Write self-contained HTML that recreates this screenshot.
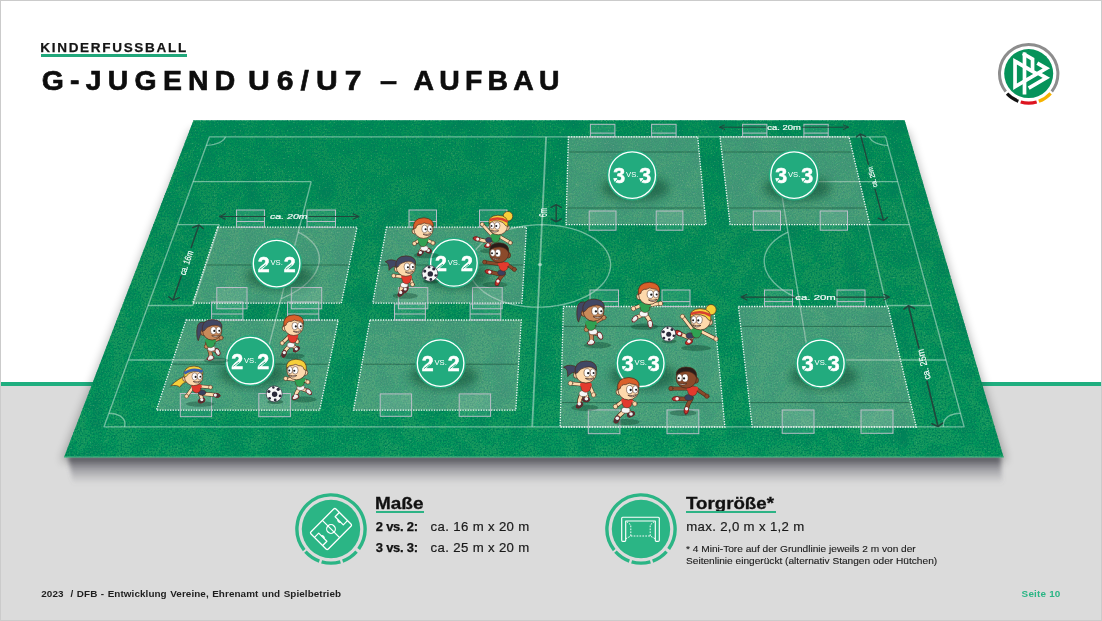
<!DOCTYPE html>
<html lang="de">
<head>
<meta charset="utf-8">
<title>Kinderfussball – G-Jugend U6/U7 – Aufbau</title>
<style>
html,body{margin:0;padding:0;}
body{width:1102px;height:621px;overflow:hidden;background:#fff;font-family:"Liberation Sans","DejaVu Sans",sans-serif;color:#111;}
#slide{position:relative;width:1102px;height:621px;overflow:hidden;background:#fff;}
#floor{position:absolute;left:0;top:385.3px;width:1102px;height:236px;background:#dbdbdb;}
#rule{position:absolute;left:0;top:382px;width:1102px;height:3.6px;background:#1fae7f;}
#frame{position:absolute;left:0;top:0;width:1100px;height:619px;border:1px solid #cbcbcb;pointer-events:none;}
#stage{position:absolute;left:0;top:0;}
.abs{position:absolute;white-space:nowrap;line-height:1;opacity:0.999;}
#stage text{opacity:0.999;}
#kicker{left:40.3px;top:41.2px;font-size:13.5px;font-weight:bold;letter-spacing:1.7px;color:#151515;-webkit-text-stroke:0.25px #151515;}
#kickline{position:absolute;left:41px;top:54px;width:146px;height:2.6px;background:#21a77b;}
#title{left:41px;top:65.7px;width:530px;height:30px;font-size:28.4px;font-weight:bold;color:#0d0d0d;-webkit-text-stroke:0.65px #0d0d0d;}
#title span{position:absolute;top:0;white-space:nowrap;transform-origin:0 0;}
.h{font-size:16.2px;font-weight:bold;color:#111;-webkit-text-stroke:0.3px #111;transform-origin:0 0;transform:scaleX(1.17);}
.hl{position:absolute;height:2px;background:#2db385;}
.b{font-size:13px;font-weight:bold;color:#111;letter-spacing:-0.25px;-webkit-text-stroke:0.25px #111;}
.r{font-size:13.2px;color:#1a1a1a;letter-spacing:0.35px;-webkit-text-stroke:0.2px #1a1a1a;}
.n{font-size:9.8px;color:#1a1a1a;transform-origin:0 0;transform:scaleX(1.034);-webkit-text-stroke:0.12px #1a1a1a;}
#foot{left:41.3px;top:588.6px;font-size:9.9px;font-weight:bold;color:#1e1e1e;letter-spacing:0.08px;word-spacing:0.65px;}
#page{left:1021.6px;top:588.6px;font-size:9.9px;font-weight:bold;color:#2bb585;letter-spacing:0.2px;}
</style>
</head>
<body>
<div id="slide">
<div id="floor"></div>
<div id="rule"></div>
<svg id="stage" width="1102" height="621" viewBox="0 0 1102 621">
<defs>
<filter id="grain" x="0" y="0" width="100%" height="100%">
<feTurbulence type="fractalNoise" baseFrequency="0.62" numOctaves="2" seed="7" result="n"/>
<feColorMatrix in="n" type="matrix" values="0 0 0 0 0  0 0 0 0 0.2  0 0 0 0 0.1  0 0 0 -3.4 1.86" result="dark"/>
<feComposite in="dark" in2="SourceAlpha" operator="in" result="d2"/>
<feColorMatrix in="n" type="matrix" values="0 0 0 0 0.25  0 0 0 0 0.74  0 0 0 0 0.5  0 0 0 0.7 -0.48" result="lite"/>
<feComposite in="lite" in2="SourceAlpha" operator="in" result="l2"/>
<feTurbulence type="fractalNoise" baseFrequency="0.045" numOctaves="3" seed="4" result="big"/>
<feColorMatrix in="big" type="matrix" values="0 0 0 0 0  0 0 0 0 0.18  0 0 0 0 0.1  0 0 0 -1.3 0.72" result="blot"/>
<feComposite in="blot" in2="SourceAlpha" operator="in" result="b2"/>
<feMerge><feMergeNode in="SourceGraphic"/><feMergeNode in="b2"/><feMergeNode in="d2"/><feMergeNode in="l2"/></feMerge>
</filter>
<filter id="grain2" x="0" y="0" width="100%" height="100%">
<feTurbulence type="fractalNoise" baseFrequency="0.9" numOctaves="1" seed="11" result="n"/>
<feColorMatrix in="n" type="matrix" values="0 0 0 0 1  0 0 0 0 1  0 0 0 0 1  0 0 0 1.5 -0.62" result="w"/>
<feComposite in="w" in2="SourceAlpha" operator="in"/>
</filter>
<filter id="blur6" x="-10%" y="-20%" width="120%" height="140%"><feGaussianBlur stdDeviation="5"/></filter>
<filter id="blur4" x="-20%" y="-20%" width="140%" height="140%"><feGaussianBlur stdDeviation="4"/></filter>
<filter id="blur2" x="-30%" y="-30%" width="160%" height="160%"><feGaussianBlur stdDeviation="2.2"/></filter>
<linearGradient id="shade" x1="0" y1="0" x2="0" y2="1">
<stop offset="0" stop-color="#45454f" stop-opacity="0.92"/>
<stop offset="0.35" stop-color="#55555f" stop-opacity="0.55"/>
<stop offset="1" stop-color="#70707a" stop-opacity="0"/>
</linearGradient>
<linearGradient id="turf" x1="0" y1="0" x2="0" y2="1">
<stop offset="0" stop-color="#118f56"/>
<stop offset="1" stop-color="#14995d"/>
</linearGradient>
<clipPath id="fieldclip"><polygon points="193.5,120.3 904.6,120.3 1003.6,457.2 64,457.2"/></clipPath>
</defs>
<polygon points="190.5,130.3 907.6,130.3 1006.6,461.2 61,461.2" fill="#000" opacity="0.28" filter="url(#blur6)"/>
<g filter="url(#blur2)"><polygon points="68,456 1000.6,456 1002.6,484 73,484" fill="url(#shade)"/></g>
<polygon points="193.5,120.3 904.6,120.3 1003.6,457.2 64,457.2" fill="url(#turf)" filter="url(#grain)"/>
<polyline points="64,457 1003.6,457" fill="none" stroke="#5fc596" stroke-width="1" opacity="0.8"/>
<g fill="none" stroke="#e2f3ea" stroke-opacity="0.47" stroke-width="1.35" stroke-linejoin="round">
<polygon points="209.4,136.9 885.6,136.9 964.1,426.8 104,426.8"/>
<line x1="546.1" y1="136.9" x2="532.2" y2="426.8" stroke-width="1.8"/>
<polyline points="193.1,181.6 311.2,181.6"/>
<polyline points="311.2,181.6 265.3,360"/>
<polyline points="265.3,360 128.3,360"/>
<polyline points="897.7,181.6 779.7,181.6"/>
<polyline points="779.7,181.6 809,360"/>
<polyline points="809,360 946,360"/>
<polyline points="177.5,224.6 219.3,224.6"/>
<polyline points="219.3,224.6 192.8,305.5"/>
<polyline points="192.8,305.5 148.1,305.5"/>
<polyline points="909.3,224.6 867.5,224.6"/>
<polyline points="867.5,224.6 886.5,305.5"/>
<polyline points="886.5,305.5 931.2,305.5"/>
<polyline points="610.6,264.5 610.3,261 609.5,257.4 608.1,254 606.3,250.6 603.9,247.4 601.1,244.3 597.8,241.4 594.2,238.6 590.1,236.1 585.7,233.8 581,231.7 575.9,229.9 570.7,228.4 565.2,227.1 559.5,226 553.7,225.3 547.8,224.9 541.9,224.7 535.9,224.9 530,225.3 524.1,226 518.4,227.1 512.8,228.4 507.4,229.9 502.2,231.7 497.2,233.8 492.6,236.1 488.3,238.6 484.4,241.4 480.8,244.3 477.7,247.4 475.1,250.6 472.9,254 471.2,257.4 470,261 469.4,264.5 469.2,268.1 469.7,271.7 470.6,275.3 472.1,278.8 474.2,282.2 476.8,285.5 479.8,288.6 483.4,291.6 487.4,294.4 491.8,296.9 496.6,299.2 501.8,301.3 507.3,303 513.1,304.5 519.1,305.7 525.3,306.5 531.6,307 538,307.2 544.3,307 550.7,306.5 556.9,305.7 563.1,304.5 569,303 574.6,301.3 580,299.2 585.1,296.9 589.8,294.4 594,291.6 597.9,288.6 601.2,285.5 604.1,282.2 606.5,278.8 608.3,275.3 609.6,271.7 610.4,268.1 610.6,264.5"/>
<polyline points="281.1,298.7 285.1,297 288.9,295.2 292.6,293.3 296,291.2 299.3,289.1 302.4,286.9 305.2,284.6 307.8,282.2 310.1,279.8 312.2,277.3 314.1,274.8 315.6,272.3 316.9,269.7 317.9,267.1 318.7,264.5 319.1,262 319.3,259.4 319.2,256.9 318.9,254.4 318.2,252 317.3,249.6 316.1,247.3 314.7,245.1 313,243 311.1,240.9 308.9,239 306.6,237.1 304,235.4 301.2,233.7 298.2,232.2"/>
<polyline points="788,232.2 784.9,233.7 781.9,235.4 779.1,237.1 776.6,239 774.2,240.9 772.1,243 770.3,245.1 768.6,247.3 767.2,249.6 766.1,252 765.2,254.4 764.6,256.9 764.3,259.4 764.2,262 764.5,264.5 765,267.1 765.7,269.7 766.8,272.3 768.1,274.8 769.7,277.3 771.6,279.8 773.7,282.2 776.1,284.6 778.7,286.9 781.5,289.1 784.6,291.2 787.9,293.3 791.4,295.2 795.1,297 798.9,298.7"/>
<polyline points="206.3,145.3 208.9,145.2 211.5,144.9 214,144.4 216.4,143.7 218.7,142.9 220.7,141.8 222.4,140.7 223.8,139.5 224.8,138.2 225.5,136.9"/>
<polyline points="869.5,136.9 870,138.2 871,139.5 872.2,140.7 873.9,141.8 875.8,142.9 877.9,143.7 880.3,144.4 882.8,144.9 885.3,145.2 887.9,145.3"/>
<polyline points="124.5,426.8 124.9,424.7 124.9,422.6 124.4,420.7 123.3,418.9 121.8,417.3 119.9,415.9 117.5,414.8 114.9,414 112,413.5 108.9,413.4"/>
<polyline points="960.5,413.4 957.3,413.5 954.4,414 951.6,414.8 949.2,415.9 947.1,417.3 945.5,418.9 944.3,420.7 943.6,422.6 943.3,424.7 943.6,426.8"/>
</g>
<ellipse cx="540" cy="264.5" rx="2.2" ry="1.6" fill="#d9efe2" opacity="0.6"/>
<polygon points="217.6,227.2 357.1,227.2 341.3,303.2 192.7,303.2" fill="#c2b8b6" fill-opacity="0.31"/>
<polygon points="217.6,227.2 357.1,227.2 341.3,303.2 192.7,303.2" fill="#fff" fill-opacity="0.13" filter="url(#grain2)"/>
<line x1="206.2" y1="265" x2="348.3" y2="265" stroke="#0a3a25" stroke-opacity="0.5" stroke-width="0.9"/>
<polygon points="217.6,227.2 357.1,227.2 341.3,303.2 192.7,303.2" fill="none" stroke="#fff" stroke-opacity="0.95" stroke-width="1.3" stroke-dasharray="1.3 1.3"/>
<polygon points="386.5,227.2 526.5,227.2 521.9,303.2 372.7,303.2" fill="#c2b8b6" fill-opacity="0.31"/>
<polygon points="386.5,227.2 526.5,227.2 521.9,303.2 372.7,303.2" fill="#fff" fill-opacity="0.13" filter="url(#grain2)"/>
<line x1="380.6" y1="265" x2="523.2" y2="265" stroke="#0a3a25" stroke-opacity="0.5" stroke-width="0.9"/>
<polygon points="386.5,227.2 526.5,227.2 521.9,303.2 372.7,303.2" fill="none" stroke="#fff" stroke-opacity="0.95" stroke-width="1.3" stroke-dasharray="1.3 1.3"/>
<polygon points="568.4,136.8 697.7,136.8 706,224.6 566,224.6" fill="#c2b8b6" fill-opacity="0.31"/>
<polygon points="568.4,136.8 697.7,136.8 706,224.6 566,224.6" fill="#fff" fill-opacity="0.13" filter="url(#grain2)"/>
<line x1="569" y1="152" x2="698.1" y2="152" stroke="#0a3a25" stroke-opacity="0.5" stroke-width="0.9"/>
<line x1="567.5" y1="208" x2="703.4" y2="208" stroke="#0a3a25" stroke-opacity="0.5" stroke-width="0.9"/>
<polygon points="568.4,136.8 697.7,136.8 706,224.6 566,224.6" fill="none" stroke="#fff" stroke-opacity="0.95" stroke-width="1.3" stroke-dasharray="1.3 1.3"/>
<polygon points="720,136.8 849,136.8 869.8,224.6 730.1,224.6" fill="#c2b8b6" fill-opacity="0.31"/>
<polygon points="720,136.8 849,136.8 869.8,224.6 730.1,224.6" fill="#fff" fill-opacity="0.13" filter="url(#grain2)"/>
<line x1="722.8" y1="152" x2="851.6" y2="152" stroke="#0a3a25" stroke-opacity="0.5" stroke-width="0.9"/>
<line x1="729.2" y1="208" x2="864.8" y2="208" stroke="#0a3a25" stroke-opacity="0.5" stroke-width="0.9"/>
<polygon points="720,136.8 849,136.8 869.8,224.6 730.1,224.6" fill="none" stroke="#fff" stroke-opacity="0.95" stroke-width="1.3" stroke-dasharray="1.3 1.3"/>
<polygon points="186.1,320 338.3,320 319.6,410.2 156.4,410.2" fill="#c2b8b6" fill-opacity="0.31"/>
<polygon points="186.1,320 338.3,320 319.6,410.2 156.4,410.2" fill="#fff" fill-opacity="0.13" filter="url(#grain2)"/>
<line x1="172.6" y1="364.2" x2="328.1" y2="364.2" stroke="#0a3a25" stroke-opacity="0.5" stroke-width="0.9"/>
<polygon points="186.1,320 338.3,320 319.6,410.2 156.4,410.2" fill="none" stroke="#fff" stroke-opacity="0.95" stroke-width="1.3" stroke-dasharray="1.3 1.3"/>
<polygon points="369.9,320 521.3,320 515.8,410.2 353.5,410.2" fill="#c2b8b6" fill-opacity="0.31"/>
<polygon points="369.9,320 521.3,320 515.8,410.2 353.5,410.2" fill="#fff" fill-opacity="0.13" filter="url(#grain2)"/>
<line x1="362.9" y1="364.2" x2="517.6" y2="364.2" stroke="#0a3a25" stroke-opacity="0.5" stroke-width="0.9"/>
<polygon points="369.9,320 521.3,320 515.8,410.2 353.5,410.2" fill="none" stroke="#fff" stroke-opacity="0.95" stroke-width="1.3" stroke-dasharray="1.3 1.3"/>
<polygon points="563.4,306.5 713.5,306.5 724.9,427 560.1,427" fill="#c2b8b6" fill-opacity="0.31"/>
<polygon points="563.4,306.5 713.5,306.5 724.9,427 560.1,427" fill="#fff" fill-opacity="0.13" filter="url(#grain2)"/>
<line x1="563.9" y1="326.4" x2="714.4" y2="326.4" stroke="#0a3a25" stroke-opacity="0.5" stroke-width="0.9"/>
<line x1="561.8" y1="402.6" x2="721.6" y2="402.6" stroke="#0a3a25" stroke-opacity="0.5" stroke-width="0.9"/>
<polygon points="563.4,306.5 713.5,306.5 724.9,427 560.1,427" fill="none" stroke="#fff" stroke-opacity="0.95" stroke-width="1.3" stroke-dasharray="1.3 1.3"/>
<polygon points="738.4,306.5 887.9,306.5 916.3,427 752.2,427" fill="#c2b8b6" fill-opacity="0.31"/>
<polygon points="738.4,306.5 887.9,306.5 916.3,427 752.2,427" fill="#fff" fill-opacity="0.13" filter="url(#grain2)"/>
<line x1="741.7" y1="326.4" x2="891.6" y2="326.4" stroke="#0a3a25" stroke-opacity="0.5" stroke-width="0.9"/>
<line x1="750.4" y1="402.6" x2="909.5" y2="402.6" stroke="#0a3a25" stroke-opacity="0.5" stroke-width="0.9"/>
<polygon points="738.4,306.5 887.9,306.5 916.3,427 752.2,427" fill="none" stroke="#fff" stroke-opacity="0.95" stroke-width="1.3" stroke-dasharray="1.3 1.3"/>
<g fill="#fff" fill-opacity="0.11" stroke="#c6c2d0" stroke-opacity="0.9" stroke-width="1">
<rect x="236.5" y="210" width="28" height="17.2"/>
<line x1="236.5" y1="221.5" x2="264.5" y2="221.5"/>
<rect x="307" y="210" width="28.5" height="17.2"/>
<line x1="307" y1="221.5" x2="335.5" y2="221.5"/>
<rect x="216.8" y="287.5" width="30.2" height="21.3"/>
<rect x="291.3" y="287.5" width="30.4" height="21.3"/>
<rect x="409" y="210" width="27.5" height="17.2"/>
<line x1="409" y1="221.5" x2="436.5" y2="221.5"/>
<rect x="479.5" y="210" width="27.5" height="17.2"/>
<line x1="479.5" y1="221.5" x2="507" y2="221.5"/>
<rect x="398.4" y="287.5" width="29.4" height="21.3"/>
<rect x="472.5" y="287.5" width="29.7" height="21.3"/>
<rect x="590.4" y="124.3" width="24.5" height="12.5"/>
<line x1="590.4" y1="133.1" x2="614.9" y2="133.1"/>
<rect x="651.6" y="124.3" width="24.5" height="12.5"/>
<line x1="651.6" y1="133.1" x2="676.1" y2="133.1"/>
<rect x="589.2" y="211" width="26.8" height="19.2"/>
<rect x="656.2" y="211" width="26.7" height="19.2"/>
<rect x="742.6" y="124.3" width="24.3" height="12.5"/>
<line x1="742.6" y1="133.1" x2="766.9" y2="133.1"/>
<rect x="803.9" y="124.3" width="24.3" height="12.5"/>
<line x1="803.9" y1="133.1" x2="828.2" y2="133.1"/>
<rect x="753.3" y="211" width="27.2" height="19.2"/>
<rect x="820.2" y="211" width="27.3" height="19.2"/>
<rect x="211.6" y="302" width="31.3" height="18"/>
<line x1="211.6" y1="314" x2="242.9" y2="314"/>
<rect x="287.5" y="302" width="31.3" height="18"/>
<line x1="287.5" y1="314" x2="318.8" y2="314"/>
<rect x="180.3" y="393.5" width="31.3" height="23.2"/>
<rect x="258.8" y="393.5" width="31.6" height="23.2"/>
<rect x="394.5" y="304" width="30.9" height="16"/>
<line x1="394.5" y1="314" x2="425.4" y2="314"/>
<rect x="470.1" y="304" width="30.7" height="16"/>
<line x1="470.1" y1="314" x2="500.8" y2="314"/>
<rect x="380.2" y="393.9" width="31.4" height="22.4"/>
<rect x="459.2" y="393.9" width="31.4" height="22.4"/>
<rect x="590" y="290" width="28.5" height="16.5"/>
<line x1="590" y1="301.6" x2="618.5" y2="301.6"/>
<rect x="662" y="290" width="28" height="16.5"/>
<line x1="662" y1="301.6" x2="690" y2="301.6"/>
<rect x="588.3" y="409.9" width="31.6" height="23.8"/>
<rect x="667" y="409.9" width="31.8" height="23.8"/>
<rect x="764.5" y="290" width="28" height="16.4"/>
<line x1="764.5" y1="301.6" x2="792.5" y2="301.6"/>
<rect x="837" y="290" width="28" height="16.4"/>
<line x1="837" y1="301.6" x2="865" y2="301.6"/>
<rect x="782.2" y="410" width="31.8" height="23.3"/>
<rect x="861" y="410" width="32" height="23.3"/>
</g>
<g font-family="'Liberation Sans', 'DejaVu Sans', sans-serif">
<path d="M219.5 216.5L265.5 216.5M308.8 216.5L359 216.5M225.4 219.3L219.5 216.5L225.4 213.7M353.1 213.7L359 216.5L353.1 219.3" fill="none" stroke="#24403a" stroke-width="1.05" stroke-linecap="round" stroke-linejoin="round" stroke-opacity="0.92"/>
<text x="288.8" y="219.2" transform="rotate(0 288.8 219.2)" font-size="7.6" text-anchor="middle" fill="#fff" fill-opacity="0.94" stroke="#fff" stroke-width="0.22" stroke-opacity="0.9" textLength="37.5" lengthAdjust="spacingAndGlyphs" font-style="italic">ca. 20m</text>
<path d="M199 225L191.2 247.6M181.3 276.1L173 300.2M192.7 227.6L199 225L203.2 228.5M179.3 297.6L173 300.2L168.8 296.7" fill="none" stroke="#24403a" stroke-width="1.45" stroke-linecap="round" stroke-linejoin="round" stroke-opacity="0.92"/>
<text x="189.3" y="263.8" transform="rotate(-71 189.3 263.8)" font-size="9.2" text-anchor="middle" fill="#fff" fill-opacity="0.94" stroke="#fff" stroke-width="0.22" stroke-opacity="0.9" textLength="25.5" lengthAdjust="spacingAndGlyphs">ca. 16m</text>
<path d="M719.5 127.2L765.9 127.2M802.1 127.2L848.5 127.2M724.7 129.6L719.5 127.2L724.7 124.8M843.3 124.8L848.5 127.2L843.3 129.6" fill="none" stroke="#24403a" stroke-width="0.95" stroke-linecap="round" stroke-linejoin="round" stroke-opacity="0.92"/>
<text x="784" y="129.9" transform="rotate(0 784 129.9)" font-size="7.4" text-anchor="middle" fill="#fff" fill-opacity="0.94" stroke="#fff" stroke-width="0.22" stroke-opacity="0.9" textLength="33.5" lengthAdjust="spacingAndGlyphs">ca. 20m</text>
<path d="M860.3 134L868.4 164.3M875.1 189.4L883.5 220.5M856.4 137L860.3 134L865.7 136.3M887.4 217.5L883.5 220.5L878.1 218.2" fill="none" stroke="#24403a" stroke-width="1.3" stroke-linecap="round" stroke-linejoin="round" stroke-opacity="0.92"/>
<text x="874.9" y="176.4" transform="rotate(-105 874.9 176.4)" font-size="7.2" text-anchor="middle" fill="#fff" fill-opacity="0.94" stroke="#fff" stroke-width="0.22" stroke-opacity="0.9" textLength="21" lengthAdjust="spacingAndGlyphs">ca. 25m</text>
<path d="M741 297.1L796 297.1M836.1 297.1L889.6 297.1M746.9 299.9L741 297.1L746.9 294.3M883.7 294.3L889.6 297.1L883.7 299.9" fill="none" stroke="#24403a" stroke-width="1.1" stroke-linecap="round" stroke-linejoin="round" stroke-opacity="0.92"/>
<text x="815.6" y="299.8" transform="rotate(0 815.6 299.8)" font-size="8.1" text-anchor="middle" fill="#fff" fill-opacity="0.94" stroke="#fff" stroke-width="0.22" stroke-opacity="0.9" textLength="40.5" lengthAdjust="spacingAndGlyphs">ca. 20m</text>
<path d="M908.5 305.7L918.8 348M927 381.3L938 426.5M903.9 309.1L908.5 305.7L914.6 308.4M942.6 423.1L938 426.5L931.9 423.8" fill="none" stroke="#24403a" stroke-width="1.6" stroke-linecap="round" stroke-linejoin="round" stroke-opacity="0.92"/>
<text x="927" y="363.8" transform="rotate(-103.7 927 363.8)" font-size="9.6" text-anchor="middle" fill="#fff" fill-opacity="0.94" stroke="#fff" stroke-width="0.22" stroke-opacity="0.9" textLength="31" lengthAdjust="spacingAndGlyphs">ca. 25m</text>
<path d="M556.2 204.5L556.2 221.8M551.1 207.4L556.2 204.5L561.3 207.4M561.3 218.9L556.2 221.8L551.1 218.9" fill="none" stroke="#24403a" stroke-width="1.4" stroke-linecap="round" stroke-linejoin="round" stroke-opacity="0.92"/>
<text x="546.9" y="212.5" transform="rotate(-90 546.9 212.5)" font-size="10.4" text-anchor="middle" fill="#fff" fill-opacity="0.94" stroke="#fff" stroke-width="0.22" stroke-opacity="0.9" textLength="9" lengthAdjust="spacingAndGlyphs">6m</text>
</g>
<ellipse cx="279.6" cy="276.6" rx="34" ry="13" fill="#04351f" opacity="0.42" filter="url(#blur4)"/>
<ellipse cx="456.9" cy="275.9" rx="34" ry="13" fill="#04351f" opacity="0.42" filter="url(#blur4)"/>
<ellipse cx="635.2" cy="188.1" rx="34" ry="13" fill="#04351f" opacity="0.42" filter="url(#blur4)"/>
<ellipse cx="797.1" cy="188.1" rx="34" ry="13" fill="#04351f" opacity="0.42" filter="url(#blur4)"/>
<ellipse cx="253.1" cy="373.7" rx="34" ry="13" fill="#04351f" opacity="0.42" filter="url(#blur4)"/>
<ellipse cx="443.6" cy="376.1" rx="34" ry="13" fill="#04351f" opacity="0.42" filter="url(#blur4)"/>
<ellipse cx="643.7" cy="376.2" rx="34" ry="13" fill="#04351f" opacity="0.42" filter="url(#blur4)"/>
<ellipse cx="823.8" cy="376.4" rx="34" ry="13" fill="#04351f" opacity="0.42" filter="url(#blur4)"/>
<g transform="translate(276.6 263.6)">
<circle r="25.4" fill="#22ab7e"/><circle r="23.3" fill="none" stroke="#fff" stroke-width="1.35"/>
<g font-family="'Liberation Sans', 'DejaVu Sans', sans-serif" fill="#fff" text-anchor="middle">
<text x="-13.0" y="8" font-size="22.3" font-weight="bold" textLength="11.9" lengthAdjust="spacingAndGlyphs" stroke="#fff" stroke-width="0.55">2</text>
<text x="0" y="1.8" font-size="6.4" textLength="12.4" lengthAdjust="spacingAndGlyphs">VS.</text>
<text x="13.0" y="8" font-size="22.3" font-weight="bold" textLength="11.9" lengthAdjust="spacingAndGlyphs" stroke="#fff" stroke-width="0.55">2</text>
</g>
<path d="M-16.7 5.6 L-10.9 1.2" stroke="#22ab7e" stroke-width="0.9" fill="none"/>
<path d="M9.3 5.6 L15.1 1.2" stroke="#22ab7e" stroke-width="0.9" fill="none"/>
</g>
<g transform="translate(453.9 262.9)">
<circle r="25.4" fill="#22ab7e"/><circle r="23.3" fill="none" stroke="#fff" stroke-width="1.35"/>
<g font-family="'Liberation Sans', 'DejaVu Sans', sans-serif" fill="#fff" text-anchor="middle">
<text x="-13.0" y="8" font-size="22.3" font-weight="bold" textLength="11.9" lengthAdjust="spacingAndGlyphs" stroke="#fff" stroke-width="0.55">2</text>
<text x="0" y="1.8" font-size="6.4" textLength="12.4" lengthAdjust="spacingAndGlyphs">VS.</text>
<text x="13.0" y="8" font-size="22.3" font-weight="bold" textLength="11.9" lengthAdjust="spacingAndGlyphs" stroke="#fff" stroke-width="0.55">2</text>
</g>
<path d="M-16.7 5.6 L-10.9 1.2" stroke="#22ab7e" stroke-width="0.9" fill="none"/>
<path d="M9.3 5.6 L15.1 1.2" stroke="#22ab7e" stroke-width="0.9" fill="none"/>
</g>
<g transform="translate(632.2 175.1)">
<circle r="25.4" fill="#22ab7e"/><circle r="23.3" fill="none" stroke="#fff" stroke-width="1.35"/>
<g font-family="'Liberation Sans', 'DejaVu Sans', sans-serif" fill="#fff" text-anchor="middle">
<text x="-13.0" y="8" font-size="22.3" font-weight="bold" textLength="11.9" lengthAdjust="spacingAndGlyphs" stroke="#fff" stroke-width="0.55">3</text>
<text x="0" y="1.8" font-size="6.4" textLength="12.4" lengthAdjust="spacingAndGlyphs">VS.</text>
<text x="13.0" y="8" font-size="22.3" font-weight="bold" textLength="11.9" lengthAdjust="spacingAndGlyphs" stroke="#fff" stroke-width="0.55">3</text>
</g>
<path d="M-17.1 6.8 L-13.7 3.0 M-15.7 -1.2 L-12.9 -3.4" stroke="#22ab7e" stroke-width="0.9" fill="none"/>
<path d="M8.9 6.8 L12.3 3.0 M10.3 -1.2 L13.1 -3.4" stroke="#22ab7e" stroke-width="0.9" fill="none"/>
</g>
<g transform="translate(794.1 175.1)">
<circle r="25.4" fill="#22ab7e"/><circle r="23.3" fill="none" stroke="#fff" stroke-width="1.35"/>
<g font-family="'Liberation Sans', 'DejaVu Sans', sans-serif" fill="#fff" text-anchor="middle">
<text x="-13.0" y="8" font-size="22.3" font-weight="bold" textLength="11.9" lengthAdjust="spacingAndGlyphs" stroke="#fff" stroke-width="0.55">3</text>
<text x="0" y="1.8" font-size="6.4" textLength="12.4" lengthAdjust="spacingAndGlyphs">VS.</text>
<text x="13.0" y="8" font-size="22.3" font-weight="bold" textLength="11.9" lengthAdjust="spacingAndGlyphs" stroke="#fff" stroke-width="0.55">3</text>
</g>
<path d="M-17.1 6.8 L-13.7 3.0 M-15.7 -1.2 L-12.9 -3.4" stroke="#22ab7e" stroke-width="0.9" fill="none"/>
<path d="M8.9 6.8 L12.3 3.0 M10.3 -1.2 L13.1 -3.4" stroke="#22ab7e" stroke-width="0.9" fill="none"/>
</g>
<g transform="translate(250.1 360.7)">
<circle r="25.4" fill="#22ab7e"/><circle r="23.3" fill="none" stroke="#fff" stroke-width="1.35"/>
<g font-family="'Liberation Sans', 'DejaVu Sans', sans-serif" fill="#fff" text-anchor="middle">
<text x="-13.0" y="8" font-size="22.3" font-weight="bold" textLength="11.9" lengthAdjust="spacingAndGlyphs" stroke="#fff" stroke-width="0.55">2</text>
<text x="0" y="1.8" font-size="6.4" textLength="12.4" lengthAdjust="spacingAndGlyphs">VS.</text>
<text x="13.0" y="8" font-size="22.3" font-weight="bold" textLength="11.9" lengthAdjust="spacingAndGlyphs" stroke="#fff" stroke-width="0.55">2</text>
</g>
<path d="M-16.7 5.6 L-10.9 1.2" stroke="#22ab7e" stroke-width="0.9" fill="none"/>
<path d="M9.3 5.6 L15.1 1.2" stroke="#22ab7e" stroke-width="0.9" fill="none"/>
</g>
<g transform="translate(440.6 363.1)">
<circle r="25.4" fill="#22ab7e"/><circle r="23.3" fill="none" stroke="#fff" stroke-width="1.35"/>
<g font-family="'Liberation Sans', 'DejaVu Sans', sans-serif" fill="#fff" text-anchor="middle">
<text x="-13.0" y="8" font-size="22.3" font-weight="bold" textLength="11.9" lengthAdjust="spacingAndGlyphs" stroke="#fff" stroke-width="0.55">2</text>
<text x="0" y="1.8" font-size="6.4" textLength="12.4" lengthAdjust="spacingAndGlyphs">VS.</text>
<text x="13.0" y="8" font-size="22.3" font-weight="bold" textLength="11.9" lengthAdjust="spacingAndGlyphs" stroke="#fff" stroke-width="0.55">2</text>
</g>
<path d="M-16.7 5.6 L-10.9 1.2" stroke="#22ab7e" stroke-width="0.9" fill="none"/>
<path d="M9.3 5.6 L15.1 1.2" stroke="#22ab7e" stroke-width="0.9" fill="none"/>
</g>
<g transform="translate(640.7 363.2)">
<circle r="25.4" fill="#22ab7e"/><circle r="23.3" fill="none" stroke="#fff" stroke-width="1.35"/>
<g font-family="'Liberation Sans', 'DejaVu Sans', sans-serif" fill="#fff" text-anchor="middle">
<text x="-13.0" y="8" font-size="22.3" font-weight="bold" textLength="11.9" lengthAdjust="spacingAndGlyphs" stroke="#fff" stroke-width="0.55">3</text>
<text x="0" y="1.8" font-size="6.4" textLength="12.4" lengthAdjust="spacingAndGlyphs">VS.</text>
<text x="13.0" y="8" font-size="22.3" font-weight="bold" textLength="11.9" lengthAdjust="spacingAndGlyphs" stroke="#fff" stroke-width="0.55">3</text>
</g>
<path d="M-17.1 6.8 L-13.7 3.0 M-15.7 -1.2 L-12.9 -3.4" stroke="#22ab7e" stroke-width="0.9" fill="none"/>
<path d="M8.9 6.8 L12.3 3.0 M10.3 -1.2 L13.1 -3.4" stroke="#22ab7e" stroke-width="0.9" fill="none"/>
</g>
<g transform="translate(820.8 363.4)">
<circle r="25.4" fill="#22ab7e"/><circle r="23.3" fill="none" stroke="#fff" stroke-width="1.35"/>
<g font-family="'Liberation Sans', 'DejaVu Sans', sans-serif" fill="#fff" text-anchor="middle">
<text x="-13.0" y="8" font-size="22.3" font-weight="bold" textLength="11.9" lengthAdjust="spacingAndGlyphs" stroke="#fff" stroke-width="0.55">3</text>
<text x="0" y="1.8" font-size="6.4" textLength="12.4" lengthAdjust="spacingAndGlyphs">VS.</text>
<text x="13.0" y="8" font-size="22.3" font-weight="bold" textLength="11.9" lengthAdjust="spacingAndGlyphs" stroke="#fff" stroke-width="0.55">3</text>
</g>
<path d="M-17.1 6.8 L-13.7 3.0 M-15.7 -1.2 L-12.9 -3.4" stroke="#22ab7e" stroke-width="0.9" fill="none"/>
<path d="M8.9 6.8 L12.3 3.0 M10.3 -1.2 L13.1 -3.4" stroke="#22ab7e" stroke-width="0.9" fill="none"/>
</g>
<ellipse cx="426.2" cy="255.4" rx="12.5" ry="2.9" fill="#04351f" opacity="0.33"/>
<g stroke-linecap="round" stroke-linejoin="round">
<path d="M422.4 249.7 Q420 251.1 420.5 253" fill="none" stroke="#4a2a1a" stroke-width="4.1"/>
<path d="M422.4 249.7 Q420 251.1 420.5 253" fill="none" stroke="#fdd9ac" stroke-width="3.1"/>
<ellipse cx="420.5" cy="253" rx="3.6" ry="2.1" transform="rotate(135.1 420.5 253)" fill="#4a3236" stroke="#6a2326" stroke-width="0.9"/>
<circle cx="420.4" cy="252.5" r="1.6" fill="#f2f2f2"/>
<path d="M426.6 249.7 Q428.7 249.9 428 250.5" fill="none" stroke="#4a2a1a" stroke-width="4.1"/>
<path d="M426.6 249.7 Q428.7 249.9 428 250.5" fill="none" stroke="#fdd9ac" stroke-width="3.1"/>
<ellipse cx="428" cy="250.5" rx="3.6" ry="2.1" transform="rotate(200.3 428 250.5)" fill="#4a3236" stroke="#6a2326" stroke-width="0.9"/>
<circle cx="428.2" cy="250.3" r="1.6" fill="#f2f2f2"/>
<ellipse cx="424.5" cy="248.3" rx="4" ry="2.8" fill="#f6f6f6" stroke="#4a2a1a" stroke-width="0.5"/>
<path d="M419.9 239.7 L414.5 243.5" fill="none" stroke="#4a2a1a" stroke-width="3.6"/>
<path d="M419.9 239.7 L414.5 243.5" fill="none" stroke="#fdd9ac" stroke-width="2.6"/>
<circle cx="414.5" cy="243.5" r="2.1" fill="#fdd9ac" stroke="#4a2a1a" stroke-width="0.5"/>
<path d="M426.1 239.7 L433 243" fill="none" stroke="#4a2a1a" stroke-width="3.6"/>
<path d="M426.1 239.7 L433 243" fill="none" stroke="#fdd9ac" stroke-width="2.6"/>
<circle cx="433" cy="243" r="2.1" fill="#fdd9ac" stroke="#4a2a1a" stroke-width="0.5"/>
<ellipse cx="423" cy="242" rx="4.5" ry="4.7" fill="#2fa152" stroke="#4a2a1a" stroke-width="0.5"/>
<circle cx="419.6" cy="239.8" r="2.1" fill="#2fa152"/>
<circle cx="426.4" cy="239.8" r="2.1" fill="#2fa152"/>
</g>
<g transform="translate(423.5 229.1) scale(9.6 9.6)">
<ellipse cx="-0.95" cy="0.2" rx="0.24" ry="0.3" fill="#fdd9ac" stroke="#4a2a1a" stroke-width="0.07"/>
<ellipse cx="0" cy="0" rx="1" ry="0.97" fill="#fdd9ac" stroke="#4a2a1a" stroke-width="0.07"/>
<path d="M-1.03 0.05 Q-1.2 -1.15 0.05 -1.18 Q1.15 -1.1 1.02 -0.2 Q0.75 -0.62 0.35 -0.55 Q0.1 -0.75 -0.25 -0.5 Q-0.7 -0.55 -0.8 -0.1 Q-0.95 -0.1 -1.03 0.05Z" fill="#d9602a" stroke="#4a2a1a" stroke-width="0.07"/>
<ellipse cx="0.12" cy="-0.02" rx="0.3" ry="0.4" fill="#fff" stroke="#4a2a1a" stroke-width="0.05"/>
<ellipse cx="0.66" cy="-0.04" rx="0.26" ry="0.37" fill="#fff" stroke="#4a2a1a" stroke-width="0.05"/>
<circle cx="0.22" cy="0.02" r="0.11" fill="#1a1a1a"/><circle cx="0.74" cy="0.0" r="0.1" fill="#1a1a1a"/>
<path d="M-0.05 0.52 Q0.42 0.86 0.78 0.46 Q0.4 0.62 -0.05 0.52Z" fill="#fff" stroke="#4a2a1a" stroke-width="0.07"/>
</g>
<ellipse cx="494" cy="251" rx="14" ry="2.8" fill="#04351f" opacity="0.33"/>
<g stroke-linecap="round" stroke-linejoin="round">
<path d="M487.4 241.4 Q480.6 239.9 476.6 238.8" fill="none" stroke="#4a2a1a" stroke-width="4"/>
<path d="M487.4 241.4 Q480.6 239.9 476.6 238.8" fill="none" stroke="#fdd9ac" stroke-width="2.9"/>
<ellipse cx="476.6" cy="238.8" rx="3.4" ry="2" transform="rotate(-165.2 476.6 238.8)" fill="#c9342c" stroke="#6a2326" stroke-width="0.9"/>
<circle cx="477.7" cy="239.1" r="1.6" fill="#f2f2f2"/>
<path d="M491.4 241.4 Q488.2 243.2 487.8 245.5" fill="none" stroke="#4a2a1a" stroke-width="4"/>
<path d="M491.4 241.4 Q488.2 243.2 487.8 245.5" fill="none" stroke="#fdd9ac" stroke-width="2.9"/>
<ellipse cx="487.8" cy="245.5" rx="3.4" ry="2" transform="rotate(160.7 487.8 245.5)" fill="#c9342c" stroke="#6a2326" stroke-width="0.9"/>
<circle cx="487.9" cy="244.9" r="1.6" fill="#f2f2f2"/>
<ellipse cx="489.4" cy="240" rx="3.9" ry="2.7" fill="#39415f" stroke="#4a2a1a" stroke-width="0.5"/>
<path d="M492.6 235.8 L482.2 224.3" fill="none" stroke="#4a2a1a" stroke-width="3.4"/>
<path d="M492.6 235.8 L482.2 224.3" fill="none" stroke="#fdd9ac" stroke-width="2.5"/>
<circle cx="482.2" cy="224.3" r="2" fill="#fdd9ac" stroke="#4a2a1a" stroke-width="0.5"/>
<path d="M498.4 235.8 L510.4 242.8" fill="none" stroke="#4a2a1a" stroke-width="3.4"/>
<path d="M498.4 235.8 L510.4 242.8" fill="none" stroke="#fdd9ac" stroke-width="2.5"/>
<circle cx="510.4" cy="242.8" r="2" fill="#fdd9ac" stroke="#4a2a1a" stroke-width="0.5"/>
<ellipse cx="495.5" cy="238" rx="4.3" ry="4.5" fill="#2fa152" stroke="#4a2a1a" stroke-width="0.5"/>
<circle cx="492.3" cy="235.9" r="2" fill="#2fa152"/>
<circle cx="498.7" cy="235.9" r="2" fill="#2fa152"/>
</g>
<g transform="translate(498.3 225.9) scale(-9.2 9.2)">
<circle cx="-1.05" cy="-1.05" r="0.52" fill="#f6cf3a" stroke="#4a2a1a" stroke-width="0.07"/>
<ellipse cx="-0.95" cy="0.2" rx="0.24" ry="0.3" fill="#fdd9ac" stroke="#4a2a1a" stroke-width="0.07"/>
<ellipse cx="0" cy="0" rx="1" ry="0.97" fill="#fdd9ac" stroke="#4a2a1a" stroke-width="0.07"/>
<path d="M-1.03 0.1 Q-1.2 -1.15 0.05 -1.16 Q1.12 -1.1 1.02 -0.25 Q0.6 -0.7 0.0 -0.55 Q-0.6 -0.45 -0.82 0.0 Q-0.95 0.0 -1.03 0.1Z" fill="#f6cf3a" stroke="#4a2a1a" stroke-width="0.07"/>
<path d="M-1.0 -0.45 Q-0.1 -1.05 0.95 -0.62" fill="none" stroke="#d8402e" stroke-width="0.26"/>
<ellipse cx="0.12" cy="-0.02" rx="0.3" ry="0.4" fill="#fff" stroke="#4a2a1a" stroke-width="0.05"/>
<ellipse cx="0.66" cy="-0.04" rx="0.26" ry="0.37" fill="#fff" stroke="#4a2a1a" stroke-width="0.05"/>
<circle cx="0.22" cy="0.02" r="0.11" fill="#1a1a1a"/><circle cx="0.74" cy="0.0" r="0.1" fill="#1a1a1a"/>
<path d="M-0.05 0.52 Q0.42 0.86 0.78 0.46 Q0.4 0.62 -0.05 0.52Z" fill="#fff" stroke="#4a2a1a" stroke-width="0.07"/>
</g>
<ellipse cx="405.2" cy="295.9" rx="12.5" ry="2.9" fill="#04351f" opacity="0.33"/>
<g stroke-linecap="round" stroke-linejoin="round">
<path d="M402.2 286.4 Q400.1 289.7 400.9 293.5" fill="none" stroke="#4a2a1a" stroke-width="4.1"/>
<path d="M402.2 286.4 Q400.1 289.7 400.9 293.5" fill="none" stroke="#fdd9ac" stroke-width="3.1"/>
<ellipse cx="400.9" cy="293.5" rx="3.6" ry="2.1" transform="rotate(138.1 400.9 293.5)" fill="#4a3236" stroke="#6a2326" stroke-width="0.9"/>
<circle cx="400.7" cy="292.4" r="1.6" fill="#f2f2f2"/>
<path d="M406.4 286.4 Q404.5 287.7 405.5 289.5" fill="none" stroke="#4a2a1a" stroke-width="4.1"/>
<path d="M406.4 286.4 Q404.5 287.7 405.5 289.5" fill="none" stroke="#fdd9ac" stroke-width="3.1"/>
<ellipse cx="405.5" cy="289.5" rx="3.6" ry="2.1" transform="rotate(120.9 405.5 289.5)" fill="#4a3236" stroke="#6a2326" stroke-width="0.9"/>
<circle cx="405.2" cy="289" r="1.6" fill="#f2f2f2"/>
<ellipse cx="404.3" cy="285" rx="4" ry="2.8" fill="#f6f6f6" stroke="#4a2a1a" stroke-width="0.5"/>
<path d="M403.5 276.9 L393.7 275.8" fill="none" stroke="#4a2a1a" stroke-width="3.6"/>
<path d="M403.5 276.9 L393.7 275.8" fill="none" stroke="#fdd9ac" stroke-width="2.6"/>
<circle cx="393.7" cy="275.8" r="2.1" fill="#fdd9ac" stroke="#4a2a1a" stroke-width="0.5"/>
<path d="M409.7 276.9 L412.5 284.5" fill="none" stroke="#4a2a1a" stroke-width="3.6"/>
<path d="M409.7 276.9 L412.5 284.5" fill="none" stroke="#fdd9ac" stroke-width="2.6"/>
<circle cx="412.5" cy="284.5" r="2.1" fill="#fdd9ac" stroke="#4a2a1a" stroke-width="0.5"/>
<ellipse cx="406.6" cy="279.2" rx="4.5" ry="4.7" fill="#e23a2e" stroke="#4a2a1a" stroke-width="0.5"/>
<circle cx="403.2" cy="277" r="2.1" fill="#e23a2e"/>
<circle cx="410" cy="277" r="2.1" fill="#e23a2e"/>
</g>
<g transform="translate(405.8 267) scale(9.6 9.6)">
<path d="M-0.7 -0.45 Q-1.5 -1.0 -2.15 -0.55 Q-1.7 -0.45 -1.75 0.35 Q-1.3 -0.25 -0.8 0.0Z" fill="#414764" stroke="#4a2a1a" stroke-width="0.07"/>
<ellipse cx="-0.95" cy="0.2" rx="0.24" ry="0.3" fill="#fdd9ac" stroke="#4a2a1a" stroke-width="0.07"/>
<ellipse cx="0" cy="0" rx="1" ry="0.97" fill="#fdd9ac" stroke="#4a2a1a" stroke-width="0.07"/>
<path d="M-1.03 0.1 Q-1.2 -1.15 0.05 -1.16 Q1.12 -1.1 1.02 -0.25 Q0.6 -0.7 0.0 -0.55 Q-0.6 -0.45 -0.82 0.0 Q-0.95 0.0 -1.03 0.1Z" fill="#414764" stroke="#4a2a1a" stroke-width="0.07"/>
<ellipse cx="0.12" cy="-0.02" rx="0.3" ry="0.4" fill="#fff" stroke="#4a2a1a" stroke-width="0.05"/>
<ellipse cx="0.66" cy="-0.04" rx="0.26" ry="0.37" fill="#fff" stroke="#4a2a1a" stroke-width="0.05"/>
<circle cx="0.22" cy="0.02" r="0.11" fill="#1a1a1a"/><circle cx="0.74" cy="0.0" r="0.1" fill="#1a1a1a"/>
<path d="M-0.05 0.52 Q0.42 0.86 0.78 0.46 Q0.4 0.62 -0.05 0.52Z" fill="#fff" stroke="#4a2a1a" stroke-width="0.07"/>
</g>
<ellipse cx="495.1" cy="284.7" rx="12.5" ry="2.9" fill="#04351f" opacity="0.33"/>
<g stroke-linecap="round" stroke-linejoin="round">
<path d="M499.4 274.2 Q492.6 272.8 488.6 271.8" fill="none" stroke="#4a2a1a" stroke-width="4.1"/>
<path d="M499.4 274.2 Q492.6 272.8 488.6 271.8" fill="none" stroke="#8b4a2b" stroke-width="3.1"/>
<ellipse cx="488.6" cy="271.8" rx="3.6" ry="2.1" transform="rotate(-166.1 488.6 271.8)" fill="#c9342c" stroke="#6a2326" stroke-width="0.9"/>
<circle cx="489.7" cy="272.1" r="1.6" fill="#f2f2f2"/>
<path d="M503.6 274.2 Q499.1 278 497.5 282.3" fill="none" stroke="#4a2a1a" stroke-width="4.1"/>
<path d="M503.6 274.2 Q499.1 278 497.5 282.3" fill="none" stroke="#8b4a2b" stroke-width="3.1"/>
<ellipse cx="497.5" cy="282.3" rx="3.6" ry="2.1" transform="rotate(110.7 497.5 282.3)" fill="#c9342c" stroke="#6a2326" stroke-width="0.9"/>
<circle cx="498" cy="281.1" r="1.6" fill="#f2f2f2"/>
<ellipse cx="501.5" cy="272.8" rx="4" ry="2.8" fill="#39415f" stroke="#4a2a1a" stroke-width="0.5"/>
<path d="M500.4 264.2 L484.6 262.1" fill="none" stroke="#4a2a1a" stroke-width="3.6"/>
<path d="M500.4 264.2 L484.6 262.1" fill="none" stroke="#8b4a2b" stroke-width="2.6"/>
<circle cx="484.6" cy="262.1" r="2.1" fill="#8b4a2b" stroke="#4a2a1a" stroke-width="0.5"/>
<path d="M506.6 264.2 L514.4 269.4" fill="none" stroke="#4a2a1a" stroke-width="3.6"/>
<path d="M506.6 264.2 L514.4 269.4" fill="none" stroke="#8b4a2b" stroke-width="2.6"/>
<circle cx="514.4" cy="269.4" r="2.1" fill="#8b4a2b" stroke="#4a2a1a" stroke-width="0.5"/>
<ellipse cx="503.5" cy="266.5" rx="4.5" ry="4.7" fill="#e23a2e" stroke="#4a2a1a" stroke-width="0.5"/>
<circle cx="500.1" cy="264.3" r="2.1" fill="#e23a2e"/>
<circle cx="506.9" cy="264.3" r="2.1" fill="#e23a2e"/>
</g>
<g transform="translate(499.1 253.3) scale(-9.6 9.6)">
<ellipse cx="-0.95" cy="0.2" rx="0.24" ry="0.3" fill="#8b4a2b" stroke="#4a2a1a" stroke-width="0.07"/>
<ellipse cx="0" cy="0" rx="1" ry="0.97" fill="#8b4a2b" stroke="#4a2a1a" stroke-width="0.07"/>
<path d="M-1.0 -0.1 Q-1.1 -1.08 0.05 -1.1 Q1.05 -1.02 0.98 -0.3 Q0.5 -0.72 -0.1 -0.66 Q-0.7 -0.62 -1.0 -0.1Z" fill="#2a1d1a" stroke="#4a2a1a" stroke-width="0.07"/>
<ellipse cx="0.12" cy="-0.02" rx="0.3" ry="0.4" fill="#fff" stroke="#4a2a1a" stroke-width="0.05"/>
<ellipse cx="0.66" cy="-0.04" rx="0.26" ry="0.37" fill="#fff" stroke="#4a2a1a" stroke-width="0.05"/>
<circle cx="0.22" cy="0.02" r="0.11" fill="#1a1a1a"/><circle cx="0.74" cy="0.0" r="0.1" fill="#1a1a1a"/>
<path d="M-0.05 0.52 Q0.42 0.86 0.78 0.46 Q0.4 0.62 -0.05 0.52Z" fill="#fff" stroke="#4a2a1a" stroke-width="0.07"/>
</g>
<ellipse cx="430.9" cy="281.4" rx="7.9" ry="2.2" fill="#04351f" opacity="0.4"/>
<circle cx="429.9" cy="273.5" r="7.9" fill="#f7f7f7" stroke="#2a2a3a" stroke-width="0.7"/>
<circle cx="430.3" cy="273.9" r="2.7" fill="#2a2a3a"/>
<circle cx="424.7" cy="271.1" r="1.6" fill="#2a2a3a"/>
<circle cx="433.8" cy="268.9" r="1.6" fill="#2a2a3a"/>
<circle cx="430.8" cy="279.5" r="1.4" fill="#2a2a3a"/>
<circle cx="425.3" cy="277.8" r="1.3" fill="#2a2a3a"/>
<circle cx="435.7" cy="275.5" r="1.3" fill="#2a2a3a"/>
<circle cx="429.1" cy="267.2" r="1.2" fill="#2a2a3a"/>
<ellipse cx="216.1" cy="360.5" rx="12.5" ry="2.9" fill="#04351f" opacity="0.33"/>
<g stroke-linecap="round" stroke-linejoin="round">
<path d="M209.3 350 Q211.3 353.8 210.5 358.1" fill="none" stroke="#4a2a1a" stroke-width="4.1"/>
<path d="M209.3 350 Q211.3 353.8 210.5 358.1" fill="none" stroke="#c98a5a" stroke-width="3.1"/>
<ellipse cx="210.5" cy="358.1" rx="3.6" ry="2.1" transform="rotate(161.1 210.5 358.1)" fill="#e9e4e0" stroke="#6a2326" stroke-width="0.9"/>
<circle cx="210.7" cy="356.9" r="1.6" fill="#f2f2f2"/>
<path d="M213.5 350 Q217 350.8 217.6 352" fill="none" stroke="#4a2a1a" stroke-width="4.1"/>
<path d="M213.5 350 Q217 350.8 217.6 352" fill="none" stroke="#c98a5a" stroke-width="3.1"/>
<ellipse cx="217.6" cy="352" rx="3.6" ry="2.1" transform="rotate(63.7 217.6 352)" fill="#e9e4e0" stroke="#6a2326" stroke-width="0.9"/>
<circle cx="217.4" cy="351.7" r="1.6" fill="#f2f2f2"/>
<ellipse cx="211.4" cy="348.6" rx="4" ry="2.8" fill="#f6f6f6" stroke="#4a2a1a" stroke-width="0.5"/>
<path d="M207.4 340.7 L206.4 346.6" fill="none" stroke="#4a2a1a" stroke-width="3.6"/>
<path d="M207.4 340.7 L206.4 346.6" fill="none" stroke="#c98a5a" stroke-width="2.6"/>
<circle cx="206.4" cy="346.6" r="2.1" fill="#c98a5a" stroke="#4a2a1a" stroke-width="0.5"/>
<path d="M213.6 340.7 L221.1 337.8" fill="none" stroke="#4a2a1a" stroke-width="3.6"/>
<path d="M213.6 340.7 L221.1 337.8" fill="none" stroke="#c98a5a" stroke-width="2.6"/>
<circle cx="221.1" cy="337.8" r="2.1" fill="#c98a5a" stroke="#4a2a1a" stroke-width="0.5"/>
<ellipse cx="210.5" cy="343" rx="4.5" ry="4.7" fill="#2fa152" stroke="#4a2a1a" stroke-width="0.5"/>
<circle cx="207.1" cy="340.8" r="2.1" fill="#2fa152"/>
<circle cx="213.9" cy="340.8" r="2.1" fill="#2fa152"/>
</g>
<g transform="translate(212.2 330.7) scale(9.6 9.6)">
<path d="M-0.5 -0.75 Q-1.55 -1.25 -1.6 -0.1 Q-1.65 0.7 -1.45 1.05 Q-1.3 0.4 -1.05 0.25 Q-0.9 -0.3 -0.5 -0.75Z" fill="#414764" stroke="#4a2a1a" stroke-width="0.07"/>
<ellipse cx="-0.95" cy="0.2" rx="0.24" ry="0.3" fill="#c98a5a" stroke="#4a2a1a" stroke-width="0.07"/>
<ellipse cx="0" cy="0" rx="1" ry="0.97" fill="#c98a5a" stroke="#4a2a1a" stroke-width="0.07"/>
<path d="M-1.03 0.1 Q-1.2 -1.15 0.05 -1.16 Q1.12 -1.1 1.02 -0.25 Q0.6 -0.7 0.0 -0.55 Q-0.6 -0.45 -0.82 0.0 Q-0.95 0.0 -1.03 0.1Z" fill="#414764" stroke="#4a2a1a" stroke-width="0.07"/>
<ellipse cx="0.12" cy="-0.02" rx="0.3" ry="0.4" fill="#fff" stroke="#4a2a1a" stroke-width="0.05"/>
<ellipse cx="0.66" cy="-0.04" rx="0.26" ry="0.37" fill="#fff" stroke="#4a2a1a" stroke-width="0.05"/>
<circle cx="0.22" cy="0.02" r="0.11" fill="#1a1a1a"/><circle cx="0.74" cy="0.0" r="0.1" fill="#1a1a1a"/>
<path d="M-0.05 0.52 Q0.42 0.86 0.78 0.46 Q0.4 0.62 -0.05 0.52Z" fill="#fff" stroke="#4a2a1a" stroke-width="0.07"/>
</g>
<ellipse cx="292.2" cy="356.1" rx="12.5" ry="2.9" fill="#04351f" opacity="0.33"/>
<g stroke-linecap="round" stroke-linejoin="round">
<path d="M288.9 346.4 Q285 349.8 284 353.7" fill="none" stroke="#4a2a1a" stroke-width="4.1"/>
<path d="M288.9 346.4 Q285 349.8 284 353.7" fill="none" stroke="#fdd9ac" stroke-width="3.1"/>
<ellipse cx="284" cy="353.7" rx="3.6" ry="2.1" transform="rotate(104.5 284 353.7)" fill="#4a3236" stroke="#6a2326" stroke-width="0.9"/>
<circle cx="284.3" cy="352.6" r="1.6" fill="#f2f2f2"/>
<path d="M293.1 346.4 Q296.2 347.6 296.4 349.3" fill="none" stroke="#4a2a1a" stroke-width="4.1"/>
<path d="M293.1 346.4 Q296.2 347.6 296.4 349.3" fill="none" stroke="#fdd9ac" stroke-width="3.1"/>
<ellipse cx="296.4" cy="349.3" rx="3.6" ry="2.1" transform="rotate(143 296.4 349.3)" fill="#4a3236" stroke="#6a2326" stroke-width="0.9"/>
<circle cx="296.3" cy="348.8" r="1.6" fill="#f2f2f2"/>
<ellipse cx="291" cy="345" rx="4" ry="2.8" fill="#f6f6f6" stroke="#4a2a1a" stroke-width="0.5"/>
<path d="M289.7 335.9 L282.2 343.1" fill="none" stroke="#4a2a1a" stroke-width="3.6"/>
<path d="M289.7 335.9 L282.2 343.1" fill="none" stroke="#fdd9ac" stroke-width="2.6"/>
<circle cx="282.2" cy="343.1" r="2.1" fill="#fdd9ac" stroke="#4a2a1a" stroke-width="0.5"/>
<path d="M295.9 335.9 L297.2 341.6" fill="none" stroke="#4a2a1a" stroke-width="3.6"/>
<path d="M295.9 335.9 L297.2 341.6" fill="none" stroke="#fdd9ac" stroke-width="2.6"/>
<circle cx="297.2" cy="341.6" r="2.1" fill="#fdd9ac" stroke="#4a2a1a" stroke-width="0.5"/>
<ellipse cx="292.8" cy="338.2" rx="4.5" ry="4.7" fill="#e23a2e" stroke="#4a2a1a" stroke-width="0.5"/>
<circle cx="289.4" cy="336" r="2.1" fill="#e23a2e"/>
<circle cx="296.2" cy="336" r="2.1" fill="#e23a2e"/>
</g>
<g transform="translate(293.7 326.2) scale(9.6 9.6)">
<ellipse cx="-0.95" cy="0.2" rx="0.24" ry="0.3" fill="#fdd9ac" stroke="#4a2a1a" stroke-width="0.07"/>
<ellipse cx="0" cy="0" rx="1" ry="0.97" fill="#fdd9ac" stroke="#4a2a1a" stroke-width="0.07"/>
<path d="M-1.03 0.05 Q-1.2 -1.15 0.05 -1.18 Q1.15 -1.1 1.02 -0.2 Q0.75 -0.62 0.35 -0.55 Q0.1 -0.75 -0.25 -0.5 Q-0.7 -0.55 -0.8 -0.1 Q-0.95 -0.1 -1.03 0.05Z" fill="#d9602a" stroke="#4a2a1a" stroke-width="0.07"/>
<ellipse cx="0.12" cy="-0.02" rx="0.3" ry="0.4" fill="#fff" stroke="#4a2a1a" stroke-width="0.05"/>
<ellipse cx="0.66" cy="-0.04" rx="0.26" ry="0.37" fill="#fff" stroke="#4a2a1a" stroke-width="0.05"/>
<circle cx="0.22" cy="0.02" r="0.11" fill="#1a1a1a"/><circle cx="0.74" cy="0.0" r="0.1" fill="#1a1a1a"/>
<path d="M-0.05 0.52 Q0.42 0.86 0.78 0.46 Q0.4 0.62 -0.05 0.52Z" fill="#fff" stroke="#4a2a1a" stroke-width="0.07"/>
</g>
<ellipse cx="200" cy="404" rx="14" ry="2.8" fill="#04351f" opacity="0.33"/>
<g stroke-linecap="round" stroke-linejoin="round">
<path d="M200 394 Q202.2 397.1 201.6 400.6" fill="none" stroke="#4a2a1a" stroke-width="4"/>
<path d="M200 394 Q202.2 397.1 201.6 400.6" fill="none" stroke="#fdd9ac" stroke-width="2.9"/>
<ellipse cx="201.6" cy="400.6" rx="3.4" ry="2" transform="rotate(159.1 201.6 400.6)" fill="#4a3236" stroke="#6a2326" stroke-width="0.9"/>
<circle cx="201.8" cy="399.6" r="1.6" fill="#f2f2f2"/>
<path d="M204 394 Q211.7 394.4 216.7 395.3" fill="none" stroke="#4a2a1a" stroke-width="4"/>
<path d="M204 394 Q211.7 394.4 216.7 395.3" fill="none" stroke="#fdd9ac" stroke-width="2.9"/>
<ellipse cx="216.7" cy="395.3" rx="3.4" ry="2" transform="rotate(10.2 216.7 395.3)" fill="#4a3236" stroke="#6a2326" stroke-width="0.9"/>
<circle cx="215.3" cy="395.1" r="1.6" fill="#f2f2f2"/>
<ellipse cx="202" cy="392.6" rx="3.9" ry="2.7" fill="#39415f" stroke="#4a2a1a" stroke-width="0.5"/>
<path d="M193.7 386.2 L186.6 396.2" fill="none" stroke="#4a2a1a" stroke-width="3.4"/>
<path d="M193.7 386.2 L186.6 396.2" fill="none" stroke="#fdd9ac" stroke-width="2.5"/>
<circle cx="186.6" cy="396.2" r="2" fill="#fdd9ac" stroke="#4a2a1a" stroke-width="0.5"/>
<path d="M199.5 386.2 L210.5 387.3" fill="none" stroke="#4a2a1a" stroke-width="3.4"/>
<path d="M199.5 386.2 L210.5 387.3" fill="none" stroke="#fdd9ac" stroke-width="2.5"/>
<circle cx="210.5" cy="387.3" r="2" fill="#fdd9ac" stroke="#4a2a1a" stroke-width="0.5"/>
<ellipse cx="196.6" cy="388.4" rx="4.3" ry="4.5" fill="#e23a2e" stroke="#4a2a1a" stroke-width="0.5"/>
<circle cx="193.4" cy="386.3" r="2" fill="#e23a2e"/>
<circle cx="199.8" cy="386.3" r="2" fill="#e23a2e"/>
</g>
<g transform="translate(193.6 376.7) scale(9.2 9.2)">
<path d="M-0.7 -0.1 Q-1.6 0.1 -2.5 1.0 Q-1.8 0.85 -1.5 1.15 Q-1.2 0.6 -0.6 0.55Z" fill="#f6cf3a" stroke="#4a2a1a" stroke-width="0.07"/>
<ellipse cx="-0.95" cy="0.2" rx="0.24" ry="0.3" fill="#fdd9ac" stroke="#4a2a1a" stroke-width="0.07"/>
<ellipse cx="0" cy="0" rx="1" ry="0.97" fill="#fdd9ac" stroke="#4a2a1a" stroke-width="0.07"/>
<path d="M-1.03 0.1 Q-1.2 -1.15 0.05 -1.16 Q1.12 -1.1 1.02 -0.25 Q0.6 -0.7 0.0 -0.55 Q-0.6 -0.45 -0.82 0.0 Q-0.95 0.0 -1.03 0.1Z" fill="#f6cf3a" stroke="#4a2a1a" stroke-width="0.07"/>
<path d="M-1.0 -0.35 Q-0.1 -1.0 0.98 -0.55" fill="none" stroke="#3d5fae" stroke-width="0.3"/>
<ellipse cx="0.12" cy="-0.02" rx="0.3" ry="0.4" fill="#fff" stroke="#4a2a1a" stroke-width="0.05"/>
<ellipse cx="0.66" cy="-0.04" rx="0.26" ry="0.37" fill="#fff" stroke="#4a2a1a" stroke-width="0.05"/>
<circle cx="0.22" cy="0.02" r="0.11" fill="#1a1a1a"/><circle cx="0.74" cy="0.0" r="0.1" fill="#1a1a1a"/>
<path d="M-0.05 0.52 Q0.42 0.86 0.78 0.46 Q0.4 0.62 -0.05 0.52Z" fill="#fff" stroke="#4a2a1a" stroke-width="0.07"/>
</g>
<ellipse cx="304.1" cy="399.5" rx="12.5" ry="2.9" fill="#04351f" opacity="0.33"/>
<g stroke-linecap="round" stroke-linejoin="round">
<path d="M298.7 389.2 Q295.7 392.9 295.5 397.1" fill="none" stroke="#4a2a1a" stroke-width="4.1"/>
<path d="M298.7 389.2 Q295.7 392.9 295.5 397.1" fill="none" stroke="#fdd9ac" stroke-width="3.1"/>
<ellipse cx="295.5" cy="397.1" rx="3.6" ry="2.1" transform="rotate(152.1 295.5 397.1)" fill="#e9e4e0" stroke="#6a2326" stroke-width="0.9"/>
<circle cx="295.5" cy="395.9" r="1.6" fill="#f2f2f2"/>
<path d="M302.9 389.2 Q307.3 390.3 308.8 391.8" fill="none" stroke="#4a2a1a" stroke-width="4.1"/>
<path d="M302.9 389.2 Q307.3 390.3 308.8 391.8" fill="none" stroke="#fdd9ac" stroke-width="3.1"/>
<ellipse cx="308.8" cy="391.8" rx="3.6" ry="2.1" transform="rotate(45.3 308.8 391.8)" fill="#e9e4e0" stroke="#6a2326" stroke-width="0.9"/>
<circle cx="308.4" cy="391.4" r="1.6" fill="#f2f2f2"/>
<ellipse cx="300.8" cy="387.8" rx="4" ry="2.8" fill="#f6f6f6" stroke="#4a2a1a" stroke-width="0.5"/>
<path d="M296.8 380 L285.7 378.5" fill="none" stroke="#4a2a1a" stroke-width="3.6"/>
<path d="M296.8 380 L285.7 378.5" fill="none" stroke="#fdd9ac" stroke-width="2.6"/>
<circle cx="285.7" cy="378.5" r="2.1" fill="#fdd9ac" stroke="#4a2a1a" stroke-width="0.5"/>
<path d="M303 380 L307.9 382" fill="none" stroke="#4a2a1a" stroke-width="3.6"/>
<path d="M303 380 L307.9 382" fill="none" stroke="#fdd9ac" stroke-width="2.6"/>
<circle cx="307.9" cy="382" r="2.1" fill="#fdd9ac" stroke="#4a2a1a" stroke-width="0.5"/>
<ellipse cx="299.9" cy="382.3" rx="4.5" ry="4.7" fill="#2fa152" stroke="#4a2a1a" stroke-width="0.5"/>
<circle cx="296.5" cy="380.1" r="2.1" fill="#2fa152"/>
<circle cx="303.3" cy="380.1" r="2.1" fill="#2fa152"/>
</g>
<g transform="translate(296.4 370.5) scale(-9.6 9.6)">
<ellipse cx="-0.95" cy="0.2" rx="0.24" ry="0.3" fill="#fdd9ac" stroke="#4a2a1a" stroke-width="0.07"/>
<ellipse cx="0" cy="0" rx="1" ry="0.97" fill="#fdd9ac" stroke="#4a2a1a" stroke-width="0.07"/>
<path d="M-1.03 0.05 Q-1.2 -1.15 0.05 -1.18 Q1.15 -1.1 1.02 -0.2 Q0.75 -0.62 0.35 -0.55 Q0.1 -0.75 -0.25 -0.5 Q-0.7 -0.55 -0.8 -0.1 Q-0.95 -0.1 -1.03 0.05Z" fill="#f6cf3a" stroke="#4a2a1a" stroke-width="0.07"/>
<ellipse cx="0.12" cy="-0.02" rx="0.3" ry="0.4" fill="#fff" stroke="#4a2a1a" stroke-width="0.05"/>
<ellipse cx="0.66" cy="-0.04" rx="0.26" ry="0.37" fill="#fff" stroke="#4a2a1a" stroke-width="0.05"/>
<circle cx="0.22" cy="0.02" r="0.11" fill="#1a1a1a"/><circle cx="0.74" cy="0.0" r="0.1" fill="#1a1a1a"/>
<path d="M-0.05 0.52 Q0.42 0.86 0.78 0.46 Q0.4 0.62 -0.05 0.52Z" fill="#fff" stroke="#4a2a1a" stroke-width="0.07"/>
</g>
<ellipse cx="275.2" cy="401.9" rx="8" ry="2.2" fill="#04351f" opacity="0.4"/>
<circle cx="274.2" cy="393.9" r="8" fill="#f7f7f7" stroke="#2a2a3a" stroke-width="0.7"/>
<circle cx="274.6" cy="394.3" r="2.7" fill="#2a2a3a"/>
<circle cx="268.9" cy="391.5" r="1.6" fill="#2a2a3a"/>
<circle cx="278.2" cy="389.3" r="1.6" fill="#2a2a3a"/>
<circle cx="275.2" cy="400" r="1.4" fill="#2a2a3a"/>
<circle cx="269.6" cy="398.3" r="1.4" fill="#2a2a3a"/>
<circle cx="280.1" cy="395.9" r="1.4" fill="#2a2a3a"/>
<circle cx="273.4" cy="387.5" r="1.2" fill="#2a2a3a"/>
<ellipse cx="597.5" cy="345.2" rx="13.5" ry="3.1" fill="#04351f" opacity="0.33"/>
<g stroke-linecap="round" stroke-linejoin="round">
<path d="M590.8 333.4 Q592.5 337.7 591 342.6" fill="none" stroke="#4a2a1a" stroke-width="4.5"/>
<path d="M590.8 333.4 Q592.5 337.7 591 342.6" fill="none" stroke="#c98a5a" stroke-width="3.3"/>
<ellipse cx="591" cy="342.6" rx="3.8" ry="2.3" transform="rotate(166.7 591 342.6)" fill="#e9e4e0" stroke="#6a2326" stroke-width="0.9"/>
<circle cx="591.4" cy="341.2" r="1.8" fill="#f2f2f2"/>
<path d="M595.4 333.4 Q599.3 334.3 600 335.7" fill="none" stroke="#4a2a1a" stroke-width="4.5"/>
<path d="M595.4 333.4 Q599.3 334.3 600 335.7" fill="none" stroke="#c98a5a" stroke-width="3.3"/>
<ellipse cx="600" cy="335.7" rx="3.8" ry="2.3" transform="rotate(62.4 600 335.7)" fill="#e9e4e0" stroke="#6a2326" stroke-width="0.9"/>
<circle cx="599.8" cy="335.3" r="1.8" fill="#f2f2f2"/>
<ellipse cx="593.1" cy="331.8" rx="4.4" ry="3" fill="#f6f6f6" stroke="#4a2a1a" stroke-width="0.5"/>
<path d="M587.7 322.9 L586.5 329.5" fill="none" stroke="#4a2a1a" stroke-width="3.8"/>
<path d="M587.7 322.9 L586.5 329.5" fill="none" stroke="#c98a5a" stroke-width="2.8"/>
<circle cx="586.5" cy="329.5" r="2.3" fill="#c98a5a" stroke="#4a2a1a" stroke-width="0.5"/>
<path d="M594.3 322.9 L603.9 317.6" fill="none" stroke="#4a2a1a" stroke-width="3.8"/>
<path d="M594.3 322.9 L603.9 317.6" fill="none" stroke="#c98a5a" stroke-width="2.8"/>
<circle cx="603.9" cy="317.6" r="2.3" fill="#c98a5a" stroke="#4a2a1a" stroke-width="0.5"/>
<ellipse cx="591" cy="325.4" rx="4.9" ry="5.1" fill="#2fa152" stroke="#4a2a1a" stroke-width="0.5"/>
<circle cx="587.4" cy="323" r="2.3" fill="#2fa152"/>
<circle cx="594.6" cy="323" r="2.3" fill="#2fa152"/>
</g>
<g transform="translate(593.6 311.2) scale(10.4 10.4)">
<path d="M-0.5 -0.75 Q-1.55 -1.25 -1.6 -0.1 Q-1.65 0.7 -1.45 1.05 Q-1.3 0.4 -1.05 0.25 Q-0.9 -0.3 -0.5 -0.75Z" fill="#414764" stroke="#4a2a1a" stroke-width="0.07"/>
<ellipse cx="-0.95" cy="0.2" rx="0.24" ry="0.3" fill="#c98a5a" stroke="#4a2a1a" stroke-width="0.07"/>
<ellipse cx="0" cy="0" rx="1" ry="0.97" fill="#c98a5a" stroke="#4a2a1a" stroke-width="0.07"/>
<path d="M-1.03 0.1 Q-1.2 -1.15 0.05 -1.16 Q1.12 -1.1 1.02 -0.25 Q0.6 -0.7 0.0 -0.55 Q-0.6 -0.45 -0.82 0.0 Q-0.95 0.0 -1.03 0.1Z" fill="#414764" stroke="#4a2a1a" stroke-width="0.07"/>
<ellipse cx="0.12" cy="-0.02" rx="0.3" ry="0.4" fill="#fff" stroke="#4a2a1a" stroke-width="0.05"/>
<ellipse cx="0.66" cy="-0.04" rx="0.26" ry="0.37" fill="#fff" stroke="#4a2a1a" stroke-width="0.05"/>
<circle cx="0.22" cy="0.02" r="0.11" fill="#1a1a1a"/><circle cx="0.74" cy="0.0" r="0.1" fill="#1a1a1a"/>
<path d="M-0.05 0.52 Q0.42 0.86 0.78 0.46 Q0.4 0.62 -0.05 0.52Z" fill="#fff" stroke="#4a2a1a" stroke-width="0.07"/>
</g>
<ellipse cx="644.5" cy="326.7" rx="13.5" ry="3.1" fill="#04351f" opacity="0.33"/>
<g stroke-linecap="round" stroke-linejoin="round">
<path d="M641.5 315.4 Q636.6 316.9 634.8 318.9" fill="none" stroke="#4a2a1a" stroke-width="4.5"/>
<path d="M641.5 315.4 Q636.6 316.9 634.8 318.9" fill="none" stroke="#fdd9ac" stroke-width="3.3"/>
<ellipse cx="634.8" cy="318.9" rx="3.8" ry="2.3" transform="rotate(131.5 634.8 318.9)" fill="#e9e4e0" stroke="#6a2326" stroke-width="0.9"/>
<circle cx="635.3" cy="318.3" r="1.8" fill="#f2f2f2"/>
<path d="M646.1 315.4 Q649.8 319.5 650.3 324.1" fill="none" stroke="#4a2a1a" stroke-width="4.5"/>
<path d="M646.1 315.4 Q649.8 319.5 650.3 324.1" fill="none" stroke="#fdd9ac" stroke-width="3.3"/>
<ellipse cx="650.3" cy="324.1" rx="3.8" ry="2.3" transform="rotate(83.3 650.3 324.1)" fill="#e9e4e0" stroke="#6a2326" stroke-width="0.9"/>
<circle cx="650.1" cy="322.8" r="1.8" fill="#f2f2f2"/>
<ellipse cx="643.8" cy="313.8" rx="4.4" ry="3" fill="#f6f6f6" stroke="#4a2a1a" stroke-width="0.5"/>
<path d="M641.8 305 L633.5 308.6" fill="none" stroke="#4a2a1a" stroke-width="3.8"/>
<path d="M641.8 305 L633.5 308.6" fill="none" stroke="#fdd9ac" stroke-width="2.8"/>
<circle cx="633.5" cy="308.6" r="2.3" fill="#fdd9ac" stroke="#4a2a1a" stroke-width="0.5"/>
<path d="M648.4 305 L660.6 303.5" fill="none" stroke="#4a2a1a" stroke-width="3.8"/>
<path d="M648.4 305 L660.6 303.5" fill="none" stroke="#fdd9ac" stroke-width="2.8"/>
<circle cx="660.6" cy="303.5" r="2.3" fill="#fdd9ac" stroke="#4a2a1a" stroke-width="0.5"/>
<ellipse cx="645.1" cy="307.5" rx="4.9" ry="5.1" fill="#2fa152" stroke="#4a2a1a" stroke-width="0.5"/>
<circle cx="641.5" cy="305.1" r="2.3" fill="#2fa152"/>
<circle cx="648.7" cy="305.1" r="2.3" fill="#2fa152"/>
</g>
<g transform="translate(649 294.5) scale(10.4 10.4)">
<ellipse cx="-0.95" cy="0.2" rx="0.24" ry="0.3" fill="#fdd9ac" stroke="#4a2a1a" stroke-width="0.07"/>
<ellipse cx="0" cy="0" rx="1" ry="0.97" fill="#fdd9ac" stroke="#4a2a1a" stroke-width="0.07"/>
<path d="M-1.03 0.05 Q-1.2 -1.15 0.05 -1.18 Q1.15 -1.1 1.02 -0.2 Q0.75 -0.62 0.35 -0.55 Q0.1 -0.75 -0.25 -0.5 Q-0.7 -0.55 -0.8 -0.1 Q-0.95 -0.1 -1.03 0.05Z" fill="#d9602a" stroke="#4a2a1a" stroke-width="0.07"/>
<ellipse cx="0.12" cy="-0.02" rx="0.3" ry="0.4" fill="#fff" stroke="#4a2a1a" stroke-width="0.05"/>
<ellipse cx="0.66" cy="-0.04" rx="0.26" ry="0.37" fill="#fff" stroke="#4a2a1a" stroke-width="0.05"/>
<circle cx="0.22" cy="0.02" r="0.11" fill="#1a1a1a"/><circle cx="0.74" cy="0.0" r="0.1" fill="#1a1a1a"/>
<path d="M-0.05 0.52 Q0.42 0.86 0.78 0.46 Q0.4 0.62 -0.05 0.52Z" fill="#fff" stroke="#4a2a1a" stroke-width="0.07"/>
</g>
<ellipse cx="696" cy="348" rx="15" ry="3" fill="#04351f" opacity="0.33"/>
<g stroke-linecap="round" stroke-linejoin="round">
<path d="M688 337.2 Q681.8 334.9 678.6 333.1" fill="none" stroke="#4a2a1a" stroke-width="4.3"/>
<path d="M688 337.2 Q681.8 334.9 678.6 333.1" fill="none" stroke="#fdd9ac" stroke-width="3.2"/>
<ellipse cx="678.6" cy="333.1" rx="3.7" ry="2.2" transform="rotate(-150.6 678.6 333.1)" fill="#c9342c" stroke="#6a2326" stroke-width="0.9"/>
<circle cx="679.5" cy="333.6" r="1.7" fill="#f2f2f2"/>
<path d="M692.4 337.2 Q689.2 339.4 688.9 342.1" fill="none" stroke="#4a2a1a" stroke-width="4.3"/>
<path d="M692.4 337.2 Q689.2 339.4 688.9 342.1" fill="none" stroke="#fdd9ac" stroke-width="3.2"/>
<ellipse cx="688.9" cy="342.1" rx="3.7" ry="2.2" transform="rotate(155.3 688.9 342.1)" fill="#c9342c" stroke="#6a2326" stroke-width="0.9"/>
<circle cx="689" cy="341.3" r="1.7" fill="#f2f2f2"/>
<ellipse cx="690.2" cy="335.7" rx="4.2" ry="2.9" fill="#39415f" stroke="#4a2a1a" stroke-width="0.5"/>
<path d="M693.4 330.7 L682.5 316.4" fill="none" stroke="#4a2a1a" stroke-width="3.7"/>
<path d="M693.4 330.7 L682.5 316.4" fill="none" stroke="#fdd9ac" stroke-width="2.7"/>
<circle cx="682.5" cy="316.4" r="2.2" fill="#fdd9ac" stroke="#4a2a1a" stroke-width="0.5"/>
<path d="M699.8 330.7 L716 339" fill="none" stroke="#4a2a1a" stroke-width="3.7"/>
<path d="M699.8 330.7 L716 339" fill="none" stroke="#fdd9ac" stroke-width="2.7"/>
<circle cx="716" cy="339" r="2.2" fill="#fdd9ac" stroke="#4a2a1a" stroke-width="0.5"/>
<ellipse cx="696.6" cy="333.1" rx="4.7" ry="4.9" fill="#2fa152" stroke="#4a2a1a" stroke-width="0.5"/>
<circle cx="693.1" cy="330.8" r="2.2" fill="#2fa152"/>
<circle cx="700.1" cy="330.8" r="2.2" fill="#2fa152"/>
</g>
<g transform="translate(700.5 320.2) scale(-10 10)">
<circle cx="-1.05" cy="-1.05" r="0.52" fill="#f6cf3a" stroke="#4a2a1a" stroke-width="0.07"/>
<ellipse cx="-0.95" cy="0.2" rx="0.24" ry="0.3" fill="#fdd9ac" stroke="#4a2a1a" stroke-width="0.07"/>
<ellipse cx="0" cy="0" rx="1" ry="0.97" fill="#fdd9ac" stroke="#4a2a1a" stroke-width="0.07"/>
<path d="M-1.03 0.1 Q-1.2 -1.15 0.05 -1.16 Q1.12 -1.1 1.02 -0.25 Q0.6 -0.7 0.0 -0.55 Q-0.6 -0.45 -0.82 0.0 Q-0.95 0.0 -1.03 0.1Z" fill="#f6cf3a" stroke="#4a2a1a" stroke-width="0.07"/>
<path d="M-1.0 -0.45 Q-0.1 -1.05 0.95 -0.62" fill="none" stroke="#d8402e" stroke-width="0.26"/>
<ellipse cx="0.12" cy="-0.02" rx="0.3" ry="0.4" fill="#fff" stroke="#4a2a1a" stroke-width="0.05"/>
<ellipse cx="0.66" cy="-0.04" rx="0.26" ry="0.37" fill="#fff" stroke="#4a2a1a" stroke-width="0.05"/>
<circle cx="0.22" cy="0.02" r="0.11" fill="#1a1a1a"/><circle cx="0.74" cy="0.0" r="0.1" fill="#1a1a1a"/>
<path d="M-0.05 0.52 Q0.42 0.86 0.78 0.46 Q0.4 0.62 -0.05 0.52Z" fill="#fff" stroke="#4a2a1a" stroke-width="0.07"/>
</g>
<ellipse cx="584.8" cy="407.8" rx="13.5" ry="3.1" fill="#04351f" opacity="0.33"/>
<g stroke-linecap="round" stroke-linejoin="round">
<path d="M581.2 395.2 Q578.8 399.9 579.5 405.2" fill="none" stroke="#4a2a1a" stroke-width="4.5"/>
<path d="M581.2 395.2 Q578.8 399.9 579.5 405.2" fill="none" stroke="#fdd9ac" stroke-width="3.3"/>
<ellipse cx="579.5" cy="405.2" rx="3.8" ry="2.3" transform="rotate(142.4 579.5 405.2)" fill="#4a3236" stroke="#6a2326" stroke-width="0.9"/>
<circle cx="579.3" cy="403.7" r="1.8" fill="#f2f2f2"/>
<path d="M585.8 395.2 Q587.5 397.1 586 399.5" fill="none" stroke="#4a2a1a" stroke-width="4.5"/>
<path d="M585.8 395.2 Q587.5 397.1 586 399.5" fill="none" stroke="#fdd9ac" stroke-width="3.3"/>
<ellipse cx="586" cy="399.5" rx="3.8" ry="2.3" transform="rotate(180.9 586 399.5)" fill="#4a3236" stroke="#6a2326" stroke-width="0.9"/>
<circle cx="586.4" cy="398.8" r="1.8" fill="#f2f2f2"/>
<ellipse cx="583.5" cy="393.6" rx="4.4" ry="3" fill="#f6f6f6" stroke="#4a2a1a" stroke-width="0.5"/>
<path d="M582.6 384.7 L570.5 383.3" fill="none" stroke="#4a2a1a" stroke-width="3.8"/>
<path d="M582.6 384.7 L570.5 383.3" fill="none" stroke="#fdd9ac" stroke-width="2.8"/>
<circle cx="570.5" cy="383.3" r="2.3" fill="#fdd9ac" stroke="#4a2a1a" stroke-width="0.5"/>
<path d="M589.2 384.7 L593.6 394.9" fill="none" stroke="#4a2a1a" stroke-width="3.8"/>
<path d="M589.2 384.7 L593.6 394.9" fill="none" stroke="#fdd9ac" stroke-width="2.8"/>
<circle cx="593.6" cy="394.9" r="2.3" fill="#fdd9ac" stroke="#4a2a1a" stroke-width="0.5"/>
<ellipse cx="585.9" cy="387.2" rx="4.9" ry="5.1" fill="#e23a2e" stroke="#4a2a1a" stroke-width="0.5"/>
<circle cx="582.3" cy="384.8" r="2.3" fill="#e23a2e"/>
<circle cx="589.5" cy="384.8" r="2.3" fill="#e23a2e"/>
</g>
<g transform="translate(585.9 373) scale(10.4 10.4)">
<path d="M-0.7 -0.45 Q-1.5 -1.0 -2.15 -0.55 Q-1.7 -0.45 -1.75 0.35 Q-1.3 -0.25 -0.8 0.0Z" fill="#414764" stroke="#4a2a1a" stroke-width="0.07"/>
<ellipse cx="-0.95" cy="0.2" rx="0.24" ry="0.3" fill="#fdd9ac" stroke="#4a2a1a" stroke-width="0.07"/>
<ellipse cx="0" cy="0" rx="1" ry="0.97" fill="#fdd9ac" stroke="#4a2a1a" stroke-width="0.07"/>
<path d="M-1.03 0.1 Q-1.2 -1.15 0.05 -1.16 Q1.12 -1.1 1.02 -0.25 Q0.6 -0.7 0.0 -0.55 Q-0.6 -0.45 -0.82 0.0 Q-0.95 0.0 -1.03 0.1Z" fill="#414764" stroke="#4a2a1a" stroke-width="0.07"/>
<ellipse cx="0.12" cy="-0.02" rx="0.3" ry="0.4" fill="#fff" stroke="#4a2a1a" stroke-width="0.05"/>
<ellipse cx="0.66" cy="-0.04" rx="0.26" ry="0.37" fill="#fff" stroke="#4a2a1a" stroke-width="0.05"/>
<circle cx="0.22" cy="0.02" r="0.11" fill="#1a1a1a"/><circle cx="0.74" cy="0.0" r="0.1" fill="#1a1a1a"/>
<path d="M-0.05 0.52 Q0.42 0.86 0.78 0.46 Q0.4 0.62 -0.05 0.52Z" fill="#fff" stroke="#4a2a1a" stroke-width="0.07"/>
</g>
<ellipse cx="625.9" cy="422" rx="13.5" ry="3.1" fill="#04351f" opacity="0.33"/>
<g stroke-linecap="round" stroke-linejoin="round">
<path d="M623.5 411.8 Q618.6 415.3 616.8 419.4" fill="none" stroke="#4a2a1a" stroke-width="4.5"/>
<path d="M623.5 411.8 Q618.6 415.3 616.8 419.4" fill="none" stroke="#fdd9ac" stroke-width="3.3"/>
<ellipse cx="616.8" cy="419.4" rx="3.8" ry="2.3" transform="rotate(113.8 616.8 419.4)" fill="#4a3236" stroke="#6a2326" stroke-width="0.9"/>
<circle cx="617.3" cy="418.3" r="1.8" fill="#f2f2f2"/>
<path d="M628.1 411.8 Q631.1 412.8 631 414.4" fill="none" stroke="#4a2a1a" stroke-width="4.5"/>
<path d="M628.1 411.8 Q631.1 412.8 631 414.4" fill="none" stroke="#fdd9ac" stroke-width="3.3"/>
<ellipse cx="631" cy="414.4" rx="3.8" ry="2.3" transform="rotate(153.8 631 414.4)" fill="#4a3236" stroke="#6a2326" stroke-width="0.9"/>
<circle cx="631" cy="414" r="1.8" fill="#f2f2f2"/>
<ellipse cx="625.8" cy="410.2" rx="4.4" ry="3" fill="#f6f6f6" stroke="#4a2a1a" stroke-width="0.5"/>
<path d="M623.8 400.3 L615.5 406.5" fill="none" stroke="#4a2a1a" stroke-width="3.8"/>
<path d="M623.8 400.3 L615.5 406.5" fill="none" stroke="#fdd9ac" stroke-width="2.8"/>
<circle cx="615.5" cy="406.5" r="2.3" fill="#fdd9ac" stroke="#4a2a1a" stroke-width="0.5"/>
<path d="M630.4 400.3 L634.8 403.9" fill="none" stroke="#4a2a1a" stroke-width="3.8"/>
<path d="M630.4 400.3 L634.8 403.9" fill="none" stroke="#fdd9ac" stroke-width="2.8"/>
<circle cx="634.8" cy="403.9" r="2.3" fill="#fdd9ac" stroke="#4a2a1a" stroke-width="0.5"/>
<ellipse cx="627.1" cy="402.8" rx="4.9" ry="5.1" fill="#e23a2e" stroke="#4a2a1a" stroke-width="0.5"/>
<circle cx="623.5" cy="400.4" r="2.3" fill="#e23a2e"/>
<circle cx="630.7" cy="400.4" r="2.3" fill="#e23a2e"/>
</g>
<g transform="translate(628.4 389.8) scale(10.4 10.4)">
<ellipse cx="-0.95" cy="0.2" rx="0.24" ry="0.3" fill="#fdd9ac" stroke="#4a2a1a" stroke-width="0.07"/>
<ellipse cx="0" cy="0" rx="1" ry="0.97" fill="#fdd9ac" stroke="#4a2a1a" stroke-width="0.07"/>
<path d="M-1.03 0.05 Q-1.2 -1.15 0.05 -1.18 Q1.15 -1.1 1.02 -0.2 Q0.75 -0.62 0.35 -0.55 Q0.1 -0.75 -0.25 -0.5 Q-0.7 -0.55 -0.8 -0.1 Q-0.95 -0.1 -1.03 0.05Z" fill="#d9602a" stroke="#4a2a1a" stroke-width="0.07"/>
<ellipse cx="0.12" cy="-0.02" rx="0.3" ry="0.4" fill="#fff" stroke="#4a2a1a" stroke-width="0.05"/>
<ellipse cx="0.66" cy="-0.04" rx="0.26" ry="0.37" fill="#fff" stroke="#4a2a1a" stroke-width="0.05"/>
<circle cx="0.22" cy="0.02" r="0.11" fill="#1a1a1a"/><circle cx="0.74" cy="0.0" r="0.1" fill="#1a1a1a"/>
<path d="M-0.05 0.52 Q0.42 0.86 0.78 0.46 Q0.4 0.62 -0.05 0.52Z" fill="#fff" stroke="#4a2a1a" stroke-width="0.07"/>
</g>
<ellipse cx="683.1" cy="412.9" rx="13.3" ry="3.1" fill="#04351f" opacity="0.33"/>
<g stroke-linecap="round" stroke-linejoin="round">
<path d="M686.8 399 Q679.8 398.7 676 398.8" fill="none" stroke="#4a2a1a" stroke-width="4.4"/>
<path d="M686.8 399 Q679.8 398.7 676 398.8" fill="none" stroke="#8b4a2b" stroke-width="3.3"/>
<ellipse cx="676" cy="398.8" rx="3.8" ry="2.2" transform="rotate(177.9 676 398.8)" fill="#c9342c" stroke="#6a2326" stroke-width="0.9"/>
<circle cx="677.1" cy="398.8" r="1.7" fill="#f2f2f2"/>
<path d="M691.2 399 Q687.2 404.5 686.3 410.4" fill="none" stroke="#4a2a1a" stroke-width="4.4"/>
<path d="M691.2 399 Q687.2 404.5 686.3 410.4" fill="none" stroke="#8b4a2b" stroke-width="3.3"/>
<ellipse cx="686.3" cy="410.4" rx="3.8" ry="2.2" transform="rotate(99 686.3 410.4)" fill="#c9342c" stroke="#6a2326" stroke-width="0.9"/>
<circle cx="686.6" cy="408.7" r="1.7" fill="#f2f2f2"/>
<ellipse cx="689" cy="397.5" rx="4.3" ry="3" fill="#39415f" stroke="#4a2a1a" stroke-width="0.5"/>
<path d="M689.2 388.6 L670.9 388.5" fill="none" stroke="#4a2a1a" stroke-width="3.8"/>
<path d="M689.2 388.6 L670.9 388.5" fill="none" stroke="#8b4a2b" stroke-width="2.8"/>
<circle cx="670.9" cy="388.5" r="2.2" fill="#8b4a2b" stroke="#4a2a1a" stroke-width="0.5"/>
<path d="M695.8 388.6 L706.9 396.2" fill="none" stroke="#4a2a1a" stroke-width="3.8"/>
<path d="M695.8 388.6 L706.9 396.2" fill="none" stroke="#8b4a2b" stroke-width="2.8"/>
<circle cx="706.9" cy="396.2" r="2.2" fill="#8b4a2b" stroke="#4a2a1a" stroke-width="0.5"/>
<ellipse cx="692.5" cy="391" rx="4.8" ry="5" fill="#e23a2e" stroke="#4a2a1a" stroke-width="0.5"/>
<circle cx="688.9" cy="388.7" r="2.2" fill="#e23a2e"/>
<circle cx="696.1" cy="388.7" r="2.2" fill="#e23a2e"/>
</g>
<g transform="translate(686.3 378.2) scale(-10.2 10.2)">
<ellipse cx="-0.95" cy="0.2" rx="0.24" ry="0.3" fill="#8b4a2b" stroke="#4a2a1a" stroke-width="0.07"/>
<ellipse cx="0" cy="0" rx="1" ry="0.97" fill="#8b4a2b" stroke="#4a2a1a" stroke-width="0.07"/>
<path d="M-1.0 -0.1 Q-1.1 -1.08 0.05 -1.1 Q1.05 -1.02 0.98 -0.3 Q0.5 -0.72 -0.1 -0.66 Q-0.7 -0.62 -1.0 -0.1Z" fill="#2a1d1a" stroke="#4a2a1a" stroke-width="0.07"/>
<ellipse cx="0.12" cy="-0.02" rx="0.3" ry="0.4" fill="#fff" stroke="#4a2a1a" stroke-width="0.05"/>
<ellipse cx="0.66" cy="-0.04" rx="0.26" ry="0.37" fill="#fff" stroke="#4a2a1a" stroke-width="0.05"/>
<circle cx="0.22" cy="0.02" r="0.11" fill="#1a1a1a"/><circle cx="0.74" cy="0.0" r="0.1" fill="#1a1a1a"/>
<path d="M-0.05 0.52 Q0.42 0.86 0.78 0.46 Q0.4 0.62 -0.05 0.52Z" fill="#fff" stroke="#4a2a1a" stroke-width="0.07"/>
</g>
<ellipse cx="669.3" cy="341.3" rx="7.4" ry="2.2" fill="#04351f" opacity="0.4"/>
<circle cx="668.3" cy="333.9" r="7.4" fill="#f7f7f7" stroke="#2a2a3a" stroke-width="0.7"/>
<circle cx="668.7" cy="334.3" r="2.5" fill="#2a2a3a"/>
<circle cx="663.4" cy="331.7" r="1.5" fill="#2a2a3a"/>
<circle cx="672" cy="329.6" r="1.5" fill="#2a2a3a"/>
<circle cx="669.2" cy="339.5" r="1.3" fill="#2a2a3a"/>
<circle cx="664" cy="338" r="1.3" fill="#2a2a3a"/>
<circle cx="673.8" cy="335.8" r="1.3" fill="#2a2a3a"/>
<circle cx="667.6" cy="328" r="1.1" fill="#2a2a3a"/>
</svg>
<div class="abs" id="kicker">KINDERFUSSBALL</div>
<div id="kickline"></div>
<div class="abs" id="title"><span style="left:0.7px;letter-spacing:6.26px">G-JUGEND</span> <span style="left:207px;letter-spacing:6.67px;transform:scaleX(1.06)">U6/U7</span> <span style="left:338.6px;transform:scaleX(1.08)">–</span> <span style="left:372.4px;letter-spacing:5.26px">AUFBAU</span></div>

<svg class="abs" style="left:980px;top:30px" width="100" height="90" viewBox="0 0 100 90">
<g transform="translate(48.7 43.6)">
<path d="M-22.95 18.06 A29.2 29.2 0 1 1 23.07 17.90" fill="none" stroke="#8d8d8d" stroke-width="3"/>
<path d="M-10.33 27.63 A29.5 29.5 0 0 1 -21.65 20.04" fill="none" stroke="#111" stroke-width="3.2"/>
<path d="M7.98 28.40 A29.5 29.5 0 0 1 -7.98 28.40" fill="none" stroke="#dd1420" stroke-width="3.2"/>
<path d="M21.92 19.74 A29.5 29.5 0 0 1 10.09 27.72" fill="none" stroke="#f6b300" stroke-width="3.2"/>
<circle r="24.5" fill="#06935a"/>
<clipPath id="dfbclip"><circle r="23.6"/></clipPath>
<g clip-path="url(#dfbclip)" fill="none" stroke="#fff" stroke-width="3.7" stroke-linejoin="miter" stroke-miterlimit="6" stroke-linecap="butt">
<path d="M8.6 -10.55 L17.7 -5.25 L-13.66 13.1 L-13.66 -12.4 L8.1 0.35"/>
<path d="M-4.2 -21 L-4.2 21"/>
<path d="M-5.8 -20.1 L3.85 -14.5 L3.85 -3.2"/>
<path d="M9.4 -0.5 L17.65 4.25 L0 14.45"/>
</g>
</g>
</svg>

<svg class="abs" style="left:289.5px;top:488.1px" width="82" height="82" viewBox="-41 -41 82 82">
<path d="M-26.80 21.09 A34.1 34.1 0 1 1 27.69 19.90 M-11.66 32.04 A34.1 34.1 0 0 1 -25.54 22.60 M9.40 32.78 A34.1 34.1 0 0 1 -9.40 32.78 M25.54 22.60 A34.1 34.1 0 0 1 11.66 32.04" fill="none" stroke="#2bb585" stroke-width="3.4"/>
<circle r="29.2" fill="#2bb585"/>
<g transform="rotate(-45)" fill="none" stroke="#fff" stroke-width="1.25" stroke-linejoin="round">
<rect x="-17.6" y="-12.2" width="35.2" height="24.4" rx="1.6"/>
<line x1="0" y1="-12.2" x2="0" y2="12.2"/><circle r="4.3"/>
<path d="M-17.6 -5.8 H-11.6 V5.8 H-17.6 M17.6 -5.8 H11.6 V5.8 H17.6"/>
<path d="M-11.6 -2 A2.4 2.4 0 0 1 -11.6 2 M11.6 -2 A2.4 2.4 0 0 0 11.6 2"/>
</g>
</svg>
<div class="abs h" style="left:375px;top:494.6px">Maße</div>
<div class="hl" style="left:376px;top:511.2px;width:48px"></div>
<div class="abs b" style="left:375.8px;top:519.6px">2 vs. 2:</div>
<div class="abs r" style="left:430.6px;top:519.65px">ca. 16 m x 20 m</div>
<div class="abs b" style="left:375.8px;top:540.7px">3 vs. 3:</div>
<div class="abs r" style="left:430.6px;top:540.75px">ca. 25 m x 20 m</div>

<svg class="abs" style="left:600.1px;top:488.1px" width="82" height="82" viewBox="-41 -41 82 82">
<g>
<path d="M-26.80 21.09 A34.1 34.1 0 1 1 27.69 19.90 M-11.66 32.04 A34.1 34.1 0 0 1 -25.54 22.60 M9.40 32.78 A34.1 34.1 0 0 1 -9.40 32.78 M25.54 22.60 A34.1 34.1 0 0 1 11.66 32.04" fill="none" stroke="#2bb585" stroke-width="3.4"/>
<circle r="29.2" fill="#2bb585"/>
<g fill="none" stroke="#fff" stroke-width="1.15" stroke-linejoin="round" transform="translate(-0.5 0)">
<path d="M-18.8 11.2 V-10.8 Q-18.8 -11.8 -17.8 -11.8 H17.8 Q18.8 -11.8 18.8 -10.8 V11.2 Q18.8 12.3 17.7 12.3 H15.9 Q14.8 12.3 14.8 11.2 V-8 H-14.8 V11.2 Q-14.8 12.3 -15.9 12.3 H-17.7 Q-18.8 12.3 -18.8 11.2 Z"/>
<path d="M-14.8 9.8 L-9.7 7 H9.7 L14.8 9.8 M-9.7 7 V-4 L-13.5 -7.2 M9.7 7 V-4 L13.5 -7.2" stroke-width="0.95" stroke-dasharray="1.7 1.2"/>
</g>
</g>
</svg>
<div class="abs h" style="left:686px;top:494.6px;transform:scaleX(1.155)">Torgröße*</div>
<div class="hl" style="left:686px;top:511.2px;width:90px"></div>
<div class="abs r" style="left:686.2px;top:519.65px">max. 2,0 m x 1,2 m</div>
<div class="abs n" style="left:686.2px;top:543.7px">* 4 Mini-Tore auf der Grundlinie jeweils 2 m von der</div>
<div class="abs n" style="left:686.2px;top:556.2px">Seitenlinie eingerückt (alternativ Stangen oder Hütchen)</div>

<div class="abs" id="foot">2023&nbsp; / DFB - Entwicklung Vereine, Ehrenamt und Spielbetrieb</div>
<div class="abs" id="page">Seite 10</div>
<div id="frame"></div>
</div>
</body>
</html>
